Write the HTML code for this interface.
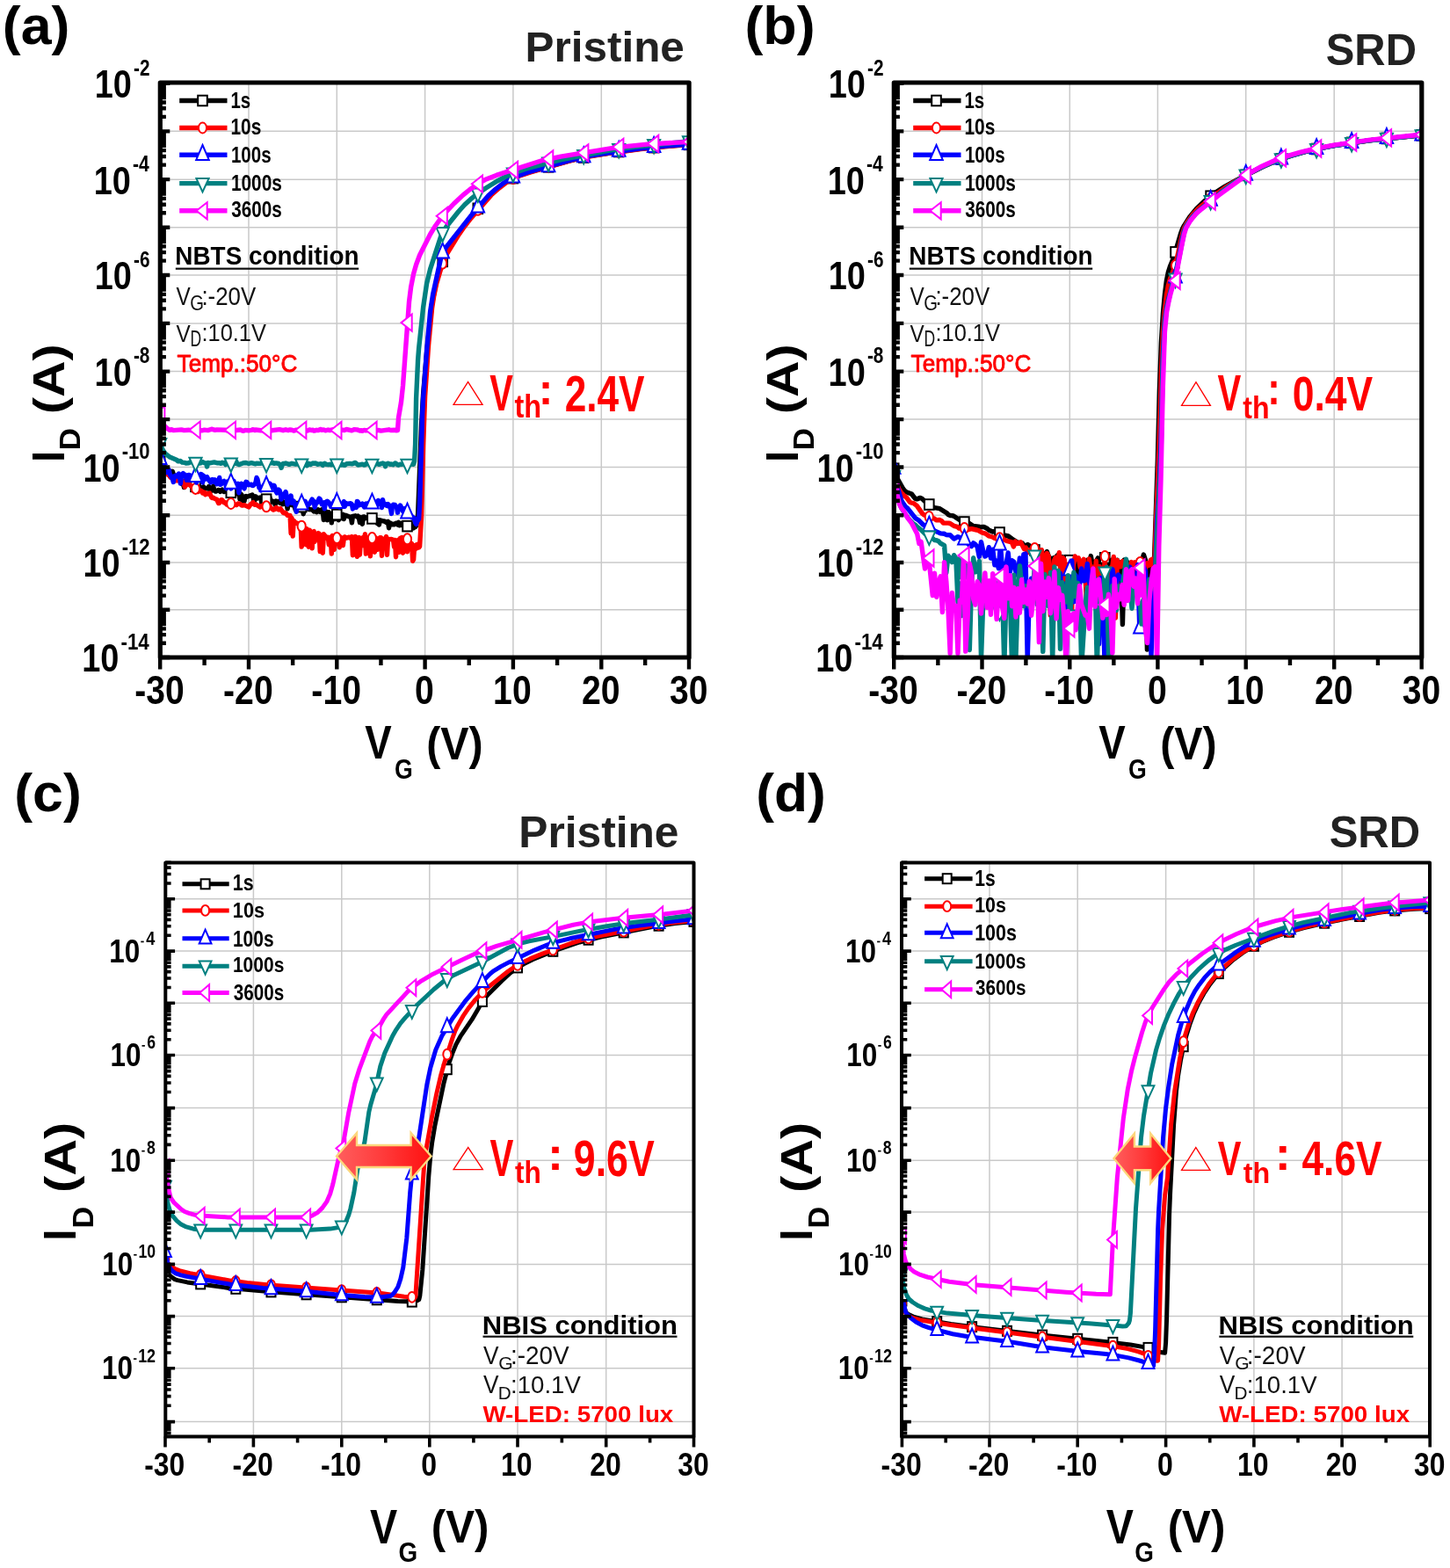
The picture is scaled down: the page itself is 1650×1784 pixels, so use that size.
<!DOCTYPE html><html><head><meta charset="utf-8"><style>html,body{margin:0;padding:0;background:#fff;}svg{display:block}</style></head><body>
<svg width="1650" height="1784" viewBox="0 0 1650 1784">
<rect width="1650" height="1784" fill="#fff"/>
<defs>
<clipPath id="ca"><rect x="182.3" y="94.0" width="601.8" height="654.0"/></clipPath>
<clipPath id="cam"><rect x="182.3" y="94.0" width="601.8" height="654.0"/></clipPath>
<clipPath id="cb"><rect x="1017.3" y="94.0" width="600.5" height="654.0"/></clipPath>
<clipPath id="cbm"><rect x="1017.3" y="94.0" width="600.5" height="654.0"/></clipPath>
<clipPath id="cc"><rect x="188.3" y="981.6" width="601.2" height="652.8"/></clipPath>
<clipPath id="ccm"><rect x="188.3" y="981.6" width="601.2" height="652.8"/></clipPath>
<clipPath id="cd"><rect x="1026.0" y="981.6" width="601.0" height="652.8"/></clipPath>
<clipPath id="cdm"><rect x="1026.0" y="981.6" width="601.0" height="652.8"/></clipPath>
<linearGradient id="ag" x1="0" y1="0" x2="1" y2="0"><stop offset="0" stop-color="#ff5e5e"/><stop offset="0.5" stop-color="#ff3a3a"/><stop offset="1" stop-color="#ff1010"/></linearGradient>
</defs>
<path d="M283.0 94.0V748.0M383.3 94.0V748.0M483.6 94.0V748.0M583.9 94.0V748.0M684.3 94.0V748.0M182.3 693.8H784.1M182.3 640.0H784.1M182.3 586.2H784.1M182.3 531.5H784.1M182.3 477.1H784.1M182.3 422.6H784.1M182.3 367.9H784.1M182.3 313.0H784.1M182.3 258.8H784.1M182.3 204.2H784.1M182.3 149.3H784.1" stroke="#c9c9c9" stroke-width="1.5" fill="none"/>
<path d="M182.2,525.0 188.2,532.2 191.3,534.9 192.3,535.3 193.3,541.8 194.3,538.1 195.3,539.2 196.3,536.3 197.3,539.6 200.3,543.5 203.4,544.1 204.4,543.4 205.4,545.6 206.4,550.0 207.4,550.8 208.4,549.2 209.4,554.5 210.4,548.8 211.4,546.2 213.4,550.7 214.5,550.7 215.5,548.9 216.5,549.4 219.5,554.6 220.5,553.5 221.5,553.6 222.5,555.0 224.5,554.8 225.5,555.2 227.6,554.4 229.6,555.1 231.6,553.8 233.6,555.9 235.6,555.6 236.6,556.0 237.6,553.5 238.6,556.0 240.7,558.3 241.7,557.8 242.7,553.3 243.7,557.4 244.7,558.8 245.7,559.1 248.7,557.5 249.7,558.0 250.7,559.4 252.8,557.2 254.8,559.5 256.8,558.0 257.8,558.5 259.8,561.6 262.8,559.6 264.9,563.1 265.9,562.6 266.9,560.4 267.9,560.4 268.9,561.8 271.9,560.9 272.9,567.8 273.9,561.8 274.9,562.8 275.9,570.2 277.0,568.5 278.0,570.3 279.0,564.8 280.0,564.5 281.0,565.2 287.0,563.1 288.0,564.6 289.0,573.3 290.0,566.8 291.0,564.8 293.0,567.0 296.0,566.0 297.0,566.5 298.0,574.4 299.0,567.9 301.1,568.3 302.1,567.0 303.1,567.0 304.1,570.6 305.1,571.8 306.1,568.0 307.1,566.4 308.1,569.5 309.1,570.9 310.1,570.0 312.1,571.1 313.1,574.3 314.1,570.1 317.1,571.4 318.1,570.1 319.1,572.6 320.1,572.7 321.1,570.0 322.1,573.7 323.1,571.2 325.1,571.7 326.1,572.5 327.1,578.9 328.1,573.4 329.1,573.5 330.1,573.0 332.1,574.6 333.2,574.2 335.2,576.5 336.2,579.9 337.2,575.0 338.2,574.3 341.2,578.3 343.2,575.7 344.2,577.0 345.2,584.7 347.2,576.5 349.2,575.7 351.2,579.5 355.2,579.9 357.2,581.9 358.2,581.2 360.2,582.7 362.2,579.9 364.2,582.5 365.2,582.1 366.2,579.8 367.3,581.3 368.3,591.5 369.3,585.0 370.3,585.0 371.3,582.0 372.3,591.7 373.3,584.0 374.3,582.8 376.3,587.1 377.3,594.9 378.3,586.1 379.3,584.6 380.3,584.1 381.3,590.5 382.3,585.2 383.3,583.0 384.3,582.9 385.3,591.7 386.3,586.3 388.3,587.0 390.3,585.3 391.3,590.6 392.3,586.8 393.3,586.3 398.3,588.3 399.3,588.0 400.4,594.9 401.4,587.4 404.4,586.8 406.4,588.1 407.4,587.1 408.4,589.2 409.4,594.5 410.4,588.6 411.4,589.3 412.4,596.3 413.4,588.0 414.4,588.0 415.4,589.8 416.4,588.8 417.4,589.3 418.4,589.3 419.4,590.1 420.4,589.7 422.4,591.3 424.4,590.1 425.4,591.1 426.4,591.2 427.4,590.0 428.4,591.4 429.4,595.6 430.4,591.7 431.4,597.0 432.4,591.8 436.5,593.0 437.5,592.9 439.5,594.5 441.5,593.4 442.5,600.7 443.5,595.0 444.5,595.2 445.5,596.8 446.5,596.9 447.5,596.3 448.5,596.7 450.5,595.3 451.5,595.4 452.5,596.9 453.5,594.3 454.5,597.8 455.5,597.5 456.5,595.3 458.5,598.1 459.5,597.2 461.5,599.7 462.5,598.2 463.5,597.5 464.5,598.9 467.6,599.7 468.6,596.9 470.6,600.9 471.6,599.6 472.6,599.6 473.6,598.2 474.6,593.9 475.6,585.8 479.6,482.8 481.6,448.5 485.6,401.0 491.6,345.5 496.6,320.2 499.6,309.2 503.7,297.4 506.7,290.7 510.7,283.3 519.7,268.8 526.7,258.6 540.8,240.8 553.8,226.0 559.8,219.9 568.9,212.3 576.9,206.4 582.9,203.0 591.9,199.3 603.0,195.7 648.2,182.8 672.3,177.4 697.3,173.5 730.2,169.1 757.1,166.4 784.0,164.4" stroke="#000000" stroke-width="5.4" fill="none" stroke-linejoin="round" clip-path="url(#ca)"/>
<g clip-path="url(#cam)"><rect x="176.9" y="519.2" width="10.6" height="11.6" fill="#fff" stroke="#000000" stroke-width="2.0"/><rect x="217.2" y="547.6" width="10.6" height="11.6" fill="#fff" stroke="#000000" stroke-width="2.0"/><rect x="257.5" y="554.5" width="10.6" height="11.6" fill="#fff" stroke="#000000" stroke-width="2.0"/><rect x="297.8" y="562.4" width="10.6" height="11.6" fill="#fff" stroke="#000000" stroke-width="2.0"/><rect x="337.9" y="570.8" width="10.6" height="11.6" fill="#fff" stroke="#000000" stroke-width="2.0"/><rect x="378.0" y="579.7" width="10.6" height="11.6" fill="#fff" stroke="#000000" stroke-width="2.0"/><rect x="418.1" y="584.1" width="10.6" height="11.6" fill="#fff" stroke="#000000" stroke-width="2.0"/><rect x="458.2" y="592.8" width="10.6" height="11.6" fill="#fff" stroke="#000000" stroke-width="2.0"/><rect x="498.4" y="291.6" width="10.6" height="11.6" fill="#fff" stroke="#000000" stroke-width="2.0"/><rect x="538.5" y="231.5" width="10.6" height="11.6" fill="#fff" stroke="#000000" stroke-width="2.0"/><rect x="578.6" y="196.8" width="10.6" height="11.6" fill="#fff" stroke="#000000" stroke-width="2.0"/><rect x="618.8" y="184.0" width="10.6" height="11.6" fill="#fff" stroke="#000000" stroke-width="2.0"/><rect x="658.9" y="173.2" width="10.6" height="11.6" fill="#fff" stroke="#000000" stroke-width="2.0"/><rect x="698.9" y="166.7" width="10.6" height="11.6" fill="#fff" stroke="#000000" stroke-width="2.0"/><rect x="738.8" y="161.8" width="10.6" height="11.6" fill="#fff" stroke="#000000" stroke-width="2.0"/><rect x="778.7" y="158.6" width="10.6" height="11.6" fill="#fff" stroke="#000000" stroke-width="2.0"/></g>
<path d="M182.2,527.8 188.2,537.5 191.3,540.3 192.3,540.4 194.3,543.4 195.3,543.9 197.3,543.9 200.3,546.7 203.4,546.6 206.4,549.2 207.4,547.8 208.4,547.8 210.4,554.1 212.4,551.1 214.5,550.5 217.5,553.1 219.5,554.2 220.5,555.9 221.5,556.4 222.5,554.9 223.5,554.7 225.5,559.4 227.6,557.9 228.6,558.1 230.6,560.9 231.6,559.9 232.6,560.3 233.6,562.7 235.6,561.4 236.6,562.0 238.6,561.1 240.7,566.0 241.7,566.5 242.7,566.2 244.7,567.7 246.7,568.1 248.7,572.6 249.7,572.3 250.7,569.8 251.8,568.6 252.8,568.9 254.8,571.8 255.8,571.4 256.8,572.3 257.8,573.9 258.8,573.0 259.8,570.8 260.8,571.1 262.8,573.4 263.8,573.5 264.9,572.7 266.9,574.4 268.9,574.6 270.9,572.9 271.9,573.4 272.9,573.2 274.9,574.8 275.9,575.1 278.0,574.6 283.0,576.9 285.0,573.9 288.0,571.7 289.0,573.5 290.0,574.3 291.0,573.8 296.0,576.9 297.0,575.7 299.0,576.0 300.1,574.2 301.1,574.2 303.1,577.1 304.1,577.0 306.1,575.6 307.1,576.1 308.1,577.8 311.1,580.1 312.1,579.7 314.1,577.5 315.1,577.8 316.1,579.4 317.1,580.0 319.1,578.7 322.1,583.1 323.1,583.7 324.1,583.3 325.1,583.7 327.1,586.2 330.1,586.5 331.1,606.9 332.1,589.4 333.2,610.0 334.2,592.4 336.2,594.5 338.2,595.5 340.2,595.6 341.2,596.5 342.2,598.7 343.2,622.1 344.2,616.2 345.2,601.5 346.2,602.2 347.2,601.2 348.2,619.7 349.2,601.6 351.2,622.2 352.2,603.1 353.2,604.5 355.2,623.9 356.2,605.3 357.2,604.6 358.2,616.2 359.2,608.2 360.2,608.4 362.2,606.6 363.2,607.1 364.2,627.6 365.2,610.2 366.2,609.6 367.3,629.2 368.3,607.8 372.3,612.5 373.3,611.3 374.3,619.8 375.3,611.5 376.3,612.2 377.3,630.0 378.3,609.4 379.3,620.1 380.3,625.3 381.3,612.2 382.3,613.1 385.3,611.9 386.3,622.8 387.3,611.0 388.3,612.0 389.3,614.9 390.3,620.6 391.3,612.8 392.3,610.8 394.3,612.1 397.3,611.2 398.3,612.2 399.3,612.4 400.4,610.7 401.4,631.7 402.4,617.9 403.4,621.9 404.4,610.4 405.4,627.3 406.4,633.3 407.4,612.2 408.4,611.5 409.4,631.2 410.4,613.8 411.4,612.2 412.4,612.4 413.4,611.4 414.4,621.0 415.4,607.8 416.4,630.1 417.4,611.8 419.4,614.2 420.4,613.7 421.4,632.8 422.4,614.8 423.4,614.3 424.4,612.4 425.4,611.7 426.4,628.2 427.4,611.6 428.4,613.3 429.4,625.4 430.4,614.9 432.4,611.6 433.5,611.6 434.5,632.3 435.5,613.4 437.5,614.0 438.5,613.0 439.5,610.5 440.5,631.3 441.5,613.1 442.5,613.6 445.5,613.4 447.5,614.2 448.5,622.2 449.5,614.4 450.5,633.7 451.5,615.6 453.5,614.1 454.5,628.2 455.5,612.1 456.5,617.3 457.5,611.4 458.5,629.2 459.5,612.7 460.5,612.6 461.5,626.7 462.5,612.6 463.5,627.8 464.5,613.1 465.5,614.3 466.5,617.7 468.6,618.6 469.6,638.2 470.6,636.6 471.6,621.0 472.6,620.4 473.6,624.1 474.6,619.4 476.6,623.0 477.6,621.6 479.6,587.2 481.6,506.7 483.6,450.9 487.6,392.2 491.6,350.3 493.6,337.5 496.6,323.0 502.7,302.4 508.7,288.7 520.7,269.0 528.7,257.5 535.8,248.4 558.8,222.1 567.9,214.0 575.9,207.8 581.9,204.1 589.9,200.5 603.0,196.1 645.1,183.9 658.2,180.5 670.2,178.1 694.3,174.2 729.2,169.5 757.1,166.7 784.0,164.6" stroke="#ff0000" stroke-width="5.4" fill="none" stroke-linejoin="round" clip-path="url(#ca)"/>
<g clip-path="url(#cam)"><ellipse cx="182.2" cy="527.8" rx="4.6" ry="6.0" fill="#fff" stroke="#ff0000" stroke-width="2.0"/><ellipse cx="222.5" cy="555.9" rx="4.6" ry="6.0" fill="#fff" stroke="#ff0000" stroke-width="2.0"/><ellipse cx="262.8" cy="573.0" rx="4.6" ry="6.0" fill="#fff" stroke="#ff0000" stroke-width="2.0"/><ellipse cx="303.1" cy="576.3" rx="4.6" ry="6.0" fill="#fff" stroke="#ff0000" stroke-width="2.0"/><ellipse cx="343.2" cy="598.7" rx="4.6" ry="6.0" fill="#fff" stroke="#ff0000" stroke-width="2.0"/><ellipse cx="383.3" cy="612.1" rx="4.6" ry="6.0" fill="#fff" stroke="#ff0000" stroke-width="2.0"/><ellipse cx="423.4" cy="612.1" rx="4.6" ry="6.0" fill="#fff" stroke="#ff0000" stroke-width="2.0"/><ellipse cx="463.5" cy="613.3" rx="4.6" ry="6.0" fill="#fff" stroke="#ff0000" stroke-width="2.0"/><ellipse cx="503.7" cy="299.7" rx="4.6" ry="6.0" fill="#fff" stroke="#ff0000" stroke-width="2.0"/><ellipse cx="543.8" cy="238.8" rx="4.6" ry="6.0" fill="#fff" stroke="#ff0000" stroke-width="2.0"/><ellipse cx="583.9" cy="203.1" rx="4.6" ry="6.0" fill="#fff" stroke="#ff0000" stroke-width="2.0"/><ellipse cx="624.1" cy="190.1" rx="4.6" ry="6.0" fill="#fff" stroke="#ff0000" stroke-width="2.0"/><ellipse cx="664.2" cy="179.2" rx="4.6" ry="6.0" fill="#fff" stroke="#ff0000" stroke-width="2.0"/><ellipse cx="704.2" cy="172.8" rx="4.6" ry="6.0" fill="#fff" stroke="#ff0000" stroke-width="2.0"/><ellipse cx="744.1" cy="167.9" rx="4.6" ry="6.0" fill="#fff" stroke="#ff0000" stroke-width="2.0"/><ellipse cx="784.0" cy="164.6" rx="4.6" ry="6.0" fill="#fff" stroke="#ff0000" stroke-width="2.0"/></g>
<path d="M182.2,522.3 186.2,530.0 188.2,537.1 189.3,537.4 190.3,534.2 192.3,534.7 193.3,539.7 196.3,544.5 197.3,548.5 198.3,542.0 200.3,541.0 201.4,541.9 202.4,541.1 203.4,539.0 204.4,540.4 205.4,550.1 206.4,542.8 207.4,539.7 208.4,538.5 209.4,541.4 210.4,540.0 211.4,541.6 212.4,546.3 214.5,540.5 215.5,540.4 216.5,541.1 218.5,546.3 219.5,544.1 221.5,546.3 222.5,542.9 223.5,549.0 224.5,543.7 225.5,545.0 228.6,539.5 229.6,540.0 230.6,549.0 231.6,541.2 233.6,545.1 234.6,543.1 235.6,542.6 236.6,544.9 239.7,548.9 240.7,545.8 241.7,545.5 242.7,548.4 243.7,548.4 244.7,545.9 246.7,550.8 247.7,550.1 249.7,543.4 250.7,551.3 251.8,550.8 252.8,548.7 254.8,547.4 256.8,550.6 257.8,555.7 258.8,547.9 259.8,548.8 260.8,552.2 261.8,552.0 262.8,555.9 263.8,546.4 265.9,547.2 267.9,552.3 268.9,553.6 270.9,550.4 271.9,560.7 272.9,553.8 274.9,550.4 275.9,551.0 277.0,554.7 278.0,555.8 280.0,548.3 281.0,548.6 283.0,551.7 286.0,551.1 287.0,552.4 288.0,552.5 290.0,550.8 291.0,548.7 292.0,543.5 293.0,545.5 295.0,555.2 296.0,555.7 297.0,558.0 298.0,554.5 299.0,555.6 300.1,551.9 301.1,551.2 302.1,555.7 303.1,555.5 304.1,556.0 305.1,554.0 306.1,556.2 307.1,550.2 309.1,554.0 311.1,552.2 312.1,552.6 314.1,559.1 315.1,560.9 317.1,557.2 318.1,558.1 319.1,561.5 320.1,568.1 321.1,562.5 322.1,564.6 323.1,565.3 324.1,561.5 325.1,559.6 326.1,563.8 327.1,574.0 329.1,566.8 330.1,567.5 331.1,564.1 332.1,572.3 333.2,569.4 334.2,570.1 336.2,575.2 337.2,582.4 338.2,574.0 340.2,576.1 341.2,576.2 343.2,573.1 344.2,574.1 345.2,573.9 347.2,570.3 349.2,575.5 352.2,573.2 355.2,568.0 356.2,570.8 357.2,570.6 358.2,577.2 359.2,573.2 361.2,571.5 363.2,567.1 364.2,568.0 366.2,573.6 367.3,572.3 368.3,571.9 369.3,578.9 370.3,572.6 371.3,570.9 372.3,570.2 374.3,571.8 376.3,575.7 377.3,575.9 378.3,575.3 380.3,570.1 381.3,570.5 383.3,568.4 384.3,575.7 385.3,572.0 386.3,577.1 387.3,575.0 388.3,574.2 389.3,574.4 391.3,570.7 392.3,576.3 393.3,572.3 394.3,573.7 395.3,573.1 396.3,573.4 398.3,572.7 399.3,572.9 400.4,573.8 401.4,578.9 402.4,575.7 403.4,577.0 404.4,576.1 405.4,577.4 406.4,570.4 407.4,571.0 408.4,575.0 410.4,573.8 411.4,574.3 412.4,573.1 414.4,576.8 416.4,573.2 418.4,574.5 419.4,572.1 421.4,572.3 422.4,575.4 423.4,574.3 425.4,570.1 427.4,575.7 428.4,575.8 430.4,569.4 432.4,573.2 433.5,572.9 434.5,577.5 435.5,568.6 436.5,572.7 437.5,573.7 438.5,573.4 439.5,575.0 440.5,575.4 441.5,573.6 442.5,574.5 444.5,579.0 445.5,584.4 446.5,575.8 447.5,574.3 449.5,574.5 451.5,577.4 452.5,583.2 453.5,577.8 454.5,579.0 455.5,575.0 458.5,581.5 459.5,579.3 460.5,578.5 462.5,584.1 463.5,583.2 464.5,584.4 465.5,584.4 466.5,586.9 467.6,586.5 468.6,588.6 469.6,588.2 470.6,589.9 471.6,589.5 472.6,594.6 473.6,596.3 474.6,593.5 476.6,590.5 477.6,573.6 480.6,472.4 481.6,453.1 485.6,398.6 489.6,354.4 492.6,335.2 501.7,293.7 503.7,287.9 507.7,281.2 536.8,244.4 555.8,222.6 562.8,216.2 571.9,209.1 578.9,204.6 584.9,201.6 600.0,196.2 644.1,183.7 657.2,180.2 669.2,177.7 693.3,173.8 728.2,169.1 756.1,166.2 784.0,164.1" stroke="#0000ff" stroke-width="5.4" fill="none" stroke-linejoin="round" clip-path="url(#ca)"/>
<g clip-path="url(#cam)"><polygon points="182.2,511.0 189.5,527.9 174.9,527.9" fill="#fff" stroke="#0000ff" stroke-width="2.0" stroke-linejoin="miter"/><polygon points="222.5,531.2 229.8,548.1 215.2,548.1" fill="#fff" stroke="#0000ff" stroke-width="2.0" stroke-linejoin="miter"/><polygon points="262.8,538.8 270.1,555.7 255.5,555.7" fill="#fff" stroke="#0000ff" stroke-width="2.0" stroke-linejoin="miter"/><polygon points="303.1,542.1 310.4,559.0 295.8,559.0" fill="#fff" stroke="#0000ff" stroke-width="2.0" stroke-linejoin="miter"/><polygon points="343.2,562.7 350.5,579.6 335.9,579.6" fill="#fff" stroke="#0000ff" stroke-width="2.0" stroke-linejoin="miter"/><polygon points="383.3,561.1 390.6,578.0 376.0,578.0" fill="#fff" stroke="#0000ff" stroke-width="2.0" stroke-linejoin="miter"/><polygon points="423.4,561.7 430.7,578.6 416.1,578.6" fill="#fff" stroke="#0000ff" stroke-width="2.0" stroke-linejoin="miter"/><polygon points="463.5,572.7 470.8,589.6 456.2,589.6" fill="#fff" stroke="#0000ff" stroke-width="2.0" stroke-linejoin="miter"/><polygon points="503.7,276.6 511.0,293.5 496.4,293.5" fill="#fff" stroke="#0000ff" stroke-width="2.0" stroke-linejoin="miter"/><polygon points="543.8,224.7 551.1,241.6 536.5,241.6" fill="#fff" stroke="#0000ff" stroke-width="2.0" stroke-linejoin="miter"/><polygon points="583.9,190.7 591.2,207.6 576.6,207.6" fill="#fff" stroke="#0000ff" stroke-width="2.0" stroke-linejoin="miter"/><polygon points="624.1,178.3 631.4,195.2 616.8,195.2" fill="#fff" stroke="#0000ff" stroke-width="2.0" stroke-linejoin="miter"/><polygon points="664.2,167.4 671.5,184.3 656.9,184.3" fill="#fff" stroke="#0000ff" stroke-width="2.0" stroke-linejoin="miter"/><polygon points="704.2,160.9 711.5,177.8 696.9,177.8" fill="#fff" stroke="#0000ff" stroke-width="2.0" stroke-linejoin="miter"/><polygon points="744.1,156.1 751.4,173.0 736.8,173.0" fill="#fff" stroke="#0000ff" stroke-width="2.0" stroke-linejoin="miter"/><polygon points="784.0,152.8 791.3,169.7 776.7,169.7" fill="#fff" stroke="#0000ff" stroke-width="2.0" stroke-linejoin="miter"/></g>
<path d="M182.2,504.6 185.2,511.9 188.2,516.2 193.3,520.1 201.4,523.6 202.4,524.7 205.4,524.5 207.4,526.1 210.4,526.4 211.4,527.1 214.5,526.7 217.5,525.4 220.5,527.1 222.5,525.8 226.6,527.2 228.6,526.8 230.6,525.6 232.6,526.7 234.6,527.1 235.6,531.0 236.6,526.5 238.6,526.8 243.7,525.9 247.7,526.9 249.7,526.7 250.7,527.3 251.8,527.2 252.8,526.2 254.8,527.1 255.8,526.4 256.8,528.6 257.8,526.7 261.8,528.8 264.9,526.0 265.9,525.9 267.9,527.1 268.9,525.2 269.9,527.8 271.9,528.6 277.0,526.8 280.0,526.5 283.0,527.5 286.0,526.6 290.0,527.7 291.0,527.7 292.0,527.1 296.0,527.4 298.0,526.9 301.1,528.1 303.1,527.2 305.1,527.0 306.1,525.8 307.1,525.8 308.1,526.8 311.1,526.5 312.1,527.3 314.1,526.9 317.1,527.5 319.1,529.3 320.1,532.3 321.1,528.3 322.1,527.4 323.1,527.7 325.1,527.0 329.1,528.4 332.1,527.3 336.2,528.2 338.2,527.8 343.2,528.5 347.2,526.9 349.2,529.7 351.2,527.2 353.2,528.5 356.2,526.9 357.2,527.3 359.2,526.9 361.2,528.3 365.2,527.7 367.3,529.3 368.3,527.8 369.3,527.2 371.3,528.3 373.3,528.7 375.3,528.3 377.3,528.9 380.3,527.0 382.3,528.3 383.3,528.5 384.3,527.6 385.3,527.5 388.3,529.1 390.3,528.4 391.3,529.2 392.3,529.3 394.3,527.8 398.3,527.4 400.4,527.9 404.4,526.4 407.4,529.1 412.4,528.1 414.4,529.1 415.4,528.9 416.4,527.7 417.4,527.6 419.4,527.9 421.4,529.1 422.4,529.1 425.4,527.5 427.4,528.0 429.4,527.6 431.4,528.4 435.5,527.0 437.5,527.8 438.5,530.7 439.5,528.1 441.5,527.1 443.5,528.2 445.5,528.0 447.5,528.7 449.5,527.0 450.5,527.2 452.5,528.9 453.5,529.2 455.5,528.2 457.5,528.4 459.5,527.5 462.5,528.4 465.5,527.4 466.5,528.1 470.6,528.3 471.6,524.7 472.6,505.3 473.6,453.0 475.6,409.5 476.6,396.4 481.6,349.7 485.6,322.5 489.6,306.2 501.7,268.9 504.7,262.9 507.7,258.2 521.7,240.8 528.7,233.0 535.8,226.4 543.8,220.1 552.8,214.0 565.8,206.0 576.9,200.2 585.9,196.4 599.0,192.0 616.0,187.3 639.1,181.7 692.3,171.4 730.2,166.2 784.0,160.8" stroke="#008080" stroke-width="5.4" fill="none" stroke-linejoin="round" clip-path="url(#ca)"/>
<g clip-path="url(#cam)"><polygon points="175.1,499.0 189.3,499.0 182.2,514.4" fill="#fff" stroke="#008080" stroke-width="2.0" stroke-linejoin="miter"/><polygon points="215.4,520.7 229.6,520.7 222.5,536.1" fill="#fff" stroke="#008080" stroke-width="2.0" stroke-linejoin="miter"/><polygon points="255.7,521.5 269.9,521.5 262.8,536.9" fill="#fff" stroke="#008080" stroke-width="2.0" stroke-linejoin="miter"/><polygon points="296.0,522.0 310.2,522.0 303.1,537.4" fill="#fff" stroke="#008080" stroke-width="2.0" stroke-linejoin="miter"/><polygon points="336.1,522.4 350.3,522.4 343.2,537.8" fill="#fff" stroke="#008080" stroke-width="2.0" stroke-linejoin="miter"/><polygon points="376.2,522.6 390.4,522.6 383.3,538.0" fill="#fff" stroke="#008080" stroke-width="2.0" stroke-linejoin="miter"/><polygon points="416.3,522.7 430.5,522.7 423.4,538.1" fill="#fff" stroke="#008080" stroke-width="2.0" stroke-linejoin="miter"/><polygon points="456.4,522.7 470.6,522.7 463.5,538.1" fill="#fff" stroke="#008080" stroke-width="2.0" stroke-linejoin="miter"/><polygon points="496.6,259.1 510.8,259.1 503.7,274.5" fill="#fff" stroke="#008080" stroke-width="2.0" stroke-linejoin="miter"/><polygon points="536.7,214.5 550.9,214.5 543.8,229.9" fill="#fff" stroke="#008080" stroke-width="2.0" stroke-linejoin="miter"/><polygon points="576.8,191.6 591.0,191.6 583.9,207.0" fill="#fff" stroke="#008080" stroke-width="2.0" stroke-linejoin="miter"/><polygon points="617.0,179.6 631.2,179.6 624.1,195.0" fill="#fff" stroke="#008080" stroke-width="2.0" stroke-linejoin="miter"/><polygon points="657.1,170.9 671.3,170.9 664.2,186.3" fill="#fff" stroke="#008080" stroke-width="2.0" stroke-linejoin="miter"/><polygon points="697.1,163.9 711.3,163.9 704.2,179.3" fill="#fff" stroke="#008080" stroke-width="2.0" stroke-linejoin="miter"/><polygon points="737.0,159.0 751.2,159.0 744.1,174.4" fill="#fff" stroke="#008080" stroke-width="2.0" stroke-linejoin="miter"/><polygon points="776.9,155.2 791.1,155.2 784.0,170.6" fill="#fff" stroke="#008080" stroke-width="2.0" stroke-linejoin="miter"/></g>
<path d="M182.2,471.6 186.2,483.5 189.3,486.7 193.3,489.4 195.3,488.6 197.3,489.6 206.4,488.9 209.4,489.6 214.5,489.2 218.5,489.8 222.5,488.8 224.5,489.6 227.6,489.3 229.6,489.8 232.6,489.1 236.6,489.6 240.7,488.2 244.7,489.3 246.7,488.9 256.8,489.3 258.8,490.1 260.8,489.2 262.8,489.8 264.9,489.5 266.9,489.8 273.9,489.0 275.9,490.1 277.0,490.2 279.0,489.4 283.0,489.7 286.0,489.4 288.0,488.6 290.0,489.5 291.0,489.0 297.0,489.8 303.1,488.9 307.1,490.0 318.1,488.6 322.1,489.7 325.1,488.8 328.1,489.6 329.1,488.9 330.1,488.9 331.1,489.4 332.1,489.1 334.2,490.1 337.2,489.1 339.2,489.7 342.2,489.8 344.2,489.0 346.2,489.8 350.2,490.0 352.2,488.9 354.2,489.5 356.2,489.3 357.2,490.1 358.2,490.1 360.2,489.3 362.2,489.6 364.2,488.5 365.2,488.5 366.2,489.4 368.3,488.9 370.3,489.8 373.3,489.0 375.3,489.6 378.3,488.8 380.3,490.1 382.3,489.3 384.3,490.3 386.3,489.4 390.3,489.2 391.3,489.6 394.3,488.5 400.4,489.8 403.4,488.6 406.4,488.9 409.4,490.0 411.4,489.6 412.4,490.3 414.4,489.4 416.4,489.9 419.4,489.3 422.4,489.8 424.4,489.0 428.4,490.0 430.4,489.4 433.5,490.1 442.5,488.8 444.5,489.5 449.5,489.2 450.5,489.8 452.5,489.5 453.5,475.1 456.5,457.5 458.5,439.0 465.5,343.7 467.6,326.8 470.6,311.5 473.6,301.0 477.6,290.3 489.6,266.5 495.6,256.7 501.7,248.2 508.7,239.9 516.7,231.5 526.7,222.1 534.8,215.5 543.8,209.2 551.8,204.6 564.8,199.4 618.0,182.3 638.1,178.1 702.2,167.6 739.1,163.9 784.0,161.4" stroke="#ff00ff" stroke-width="5.4" fill="none" stroke-linejoin="round" clip-path="url(#ca)"/>
<g clip-path="url(#cam)"><polygon points="175.2,471.6 187.4,462.0 187.4,481.2" fill="#fff" stroke="#ff00ff" stroke-width="2.0" stroke-linejoin="miter"/><polygon points="215.5,489.1 227.7,479.5 227.7,498.7" fill="#fff" stroke="#ff00ff" stroke-width="2.0" stroke-linejoin="miter"/><polygon points="255.8,489.3 268.0,479.7 268.0,498.9" fill="#fff" stroke="#ff00ff" stroke-width="2.0" stroke-linejoin="miter"/><polygon points="296.1,489.4 308.3,479.8 308.3,499.0" fill="#fff" stroke="#ff00ff" stroke-width="2.0" stroke-linejoin="miter"/><polygon points="336.2,489.4 348.4,479.8 348.4,499.0" fill="#fff" stroke="#ff00ff" stroke-width="2.0" stroke-linejoin="miter"/><polygon points="376.3,489.5 388.5,479.9 388.5,499.1" fill="#fff" stroke="#ff00ff" stroke-width="2.0" stroke-linejoin="miter"/><polygon points="416.4,489.5 428.6,479.9 428.6,499.1" fill="#fff" stroke="#ff00ff" stroke-width="2.0" stroke-linejoin="miter"/><polygon points="456.5,367.1 468.7,357.5 468.7,376.7" fill="#fff" stroke="#ff00ff" stroke-width="2.0" stroke-linejoin="miter"/><polygon points="496.7,245.7 508.9,236.1 508.9,255.3" fill="#fff" stroke="#ff00ff" stroke-width="2.0" stroke-linejoin="miter"/><polygon points="536.8,209.2 549.0,199.6 549.0,218.8" fill="#fff" stroke="#ff00ff" stroke-width="2.0" stroke-linejoin="miter"/><polygon points="576.9,193.4 589.1,183.8 589.1,203.0" fill="#fff" stroke="#ff00ff" stroke-width="2.0" stroke-linejoin="miter"/><polygon points="617.1,180.9 629.3,171.3 629.3,190.5" fill="#fff" stroke="#ff00ff" stroke-width="2.0" stroke-linejoin="miter"/><polygon points="657.2,173.8 669.4,164.2 669.4,183.4" fill="#fff" stroke="#ff00ff" stroke-width="2.0" stroke-linejoin="miter"/><polygon points="697.2,167.3 709.4,157.7 709.4,176.9" fill="#fff" stroke="#ff00ff" stroke-width="2.0" stroke-linejoin="miter"/><polygon points="737.1,163.5 749.3,153.9 749.3,173.1" fill="#fff" stroke="#ff00ff" stroke-width="2.0" stroke-linejoin="miter"/><polygon points="777.0,161.4 789.2,151.8 789.2,171.0" fill="#fff" stroke="#ff00ff" stroke-width="2.0" stroke-linejoin="miter"/></g>
<path d="M182.3 748.00h11M182.3 731.68h6.6M182.3 722.14h6.6M182.3 715.37h6.6M182.3 710.12h6.6M182.3 705.82h6.6M182.3 702.20h6.6M182.3 699.05h6.6M182.3 696.28h6.6M182.3 693.80h11M182.3 677.60h6.6M182.3 668.13h6.6M182.3 661.41h6.6M182.3 656.20h6.6M182.3 651.94h6.6M182.3 648.33h6.6M182.3 645.21h6.6M182.3 642.46h6.6M182.3 640.00h11M182.3 623.80h6.6M182.3 614.33h6.6M182.3 607.61h6.6M182.3 602.40h6.6M182.3 598.14h6.6M182.3 594.53h6.6M182.3 591.41h6.6M182.3 588.66h6.6M182.3 586.20h11M182.3 569.73h6.6M182.3 560.10h6.6M182.3 553.27h6.6M182.3 547.97h6.6M182.3 543.64h6.6M182.3 539.97h6.6M182.3 536.80h6.6M182.3 534.00h6.6M182.3 531.50h11M182.3 515.12h6.6M182.3 505.54h6.6M182.3 498.75h6.6M182.3 493.48h6.6M182.3 489.17h6.6M182.3 485.53h6.6M182.3 482.37h6.6M182.3 479.59h6.6M182.3 477.10h11M182.3 460.69h6.6M182.3 451.10h6.6M182.3 444.29h6.6M182.3 439.01h6.6M182.3 434.69h6.6M182.3 431.04h6.6M182.3 427.88h6.6M182.3 425.09h6.6M182.3 422.60h11M182.3 406.12h6.6M182.3 396.48h6.6M182.3 389.64h6.6M182.3 384.33h6.6M182.3 380.00h6.6M182.3 376.33h6.6M182.3 373.16h6.6M182.3 370.36h6.6M182.3 367.85h11M182.3 351.34h6.6M182.3 341.68h6.6M182.3 334.83h6.6M182.3 329.51h6.6M182.3 325.17h6.6M182.3 321.50h6.6M182.3 318.32h6.6M182.3 315.51h6.6M182.3 313.00h11M182.3 296.67h6.6M182.3 287.12h6.6M182.3 280.34h6.6M182.3 275.08h6.6M182.3 270.79h6.6M182.3 267.15h6.6M182.3 264.01h6.6M182.3 261.23h6.6M182.3 258.75h11M182.3 242.31h6.6M182.3 232.70h6.6M182.3 225.88h6.6M182.3 220.59h6.6M182.3 216.26h6.6M182.3 212.61h6.6M182.3 209.44h6.6M182.3 206.65h6.6M182.3 204.15h11M182.3 187.65h6.6M182.3 178.00h6.6M182.3 171.16h6.6M182.3 165.85h6.6M182.3 161.51h6.6M182.3 157.84h6.6M182.3 154.66h6.6M182.3 151.86h6.6M182.3 149.35h11M182.3 132.90h6.6M182.3 123.28h6.6M182.3 116.45h6.6M182.3 111.15h6.6M182.3 106.82h6.6M182.3 103.17h6.6M182.3 100.00h6.6M182.3 97.20h6.6M182.3 94.70h11M182.20 748.0v13.5M232.60 748.0v9M283.00 748.0v13.5M333.15 748.0v9M383.30 748.0v13.5M433.45 748.0v9M483.60 748.0v13.5M533.75 748.0v9M583.90 748.0v13.5M634.10 748.0v9M684.30 748.0v13.5M734.15 748.0v9M784.00 748.0v13.5" stroke="#000" stroke-width="4.4" fill="none"/>
<rect x="182.3" y="94.0" width="601.8" height="654.0" fill="none" stroke="#000" stroke-width="5.2" stroke-linejoin="round"/>
<path d="M204.2 114.5H258.5" stroke="#000000" stroke-width="5.4" stroke-linecap="butt"/>
<rect x="225.2" y="108.7" width="10.6" height="11.6" fill="#fff" stroke="#000000" stroke-width="2.0"/>
<text transform="matrix(0.7836 0 0 1 262.42 122.74)" font-size="26.09" font-weight="bold" fill="#000" font-family='"Liberation Sans", Arial, sans-serif'>1s</text>
<path d="M204.2 145.5H258.5" stroke="#ff0000" stroke-width="5.4" stroke-linecap="butt"/>
<ellipse cx="230.5" cy="145.5" rx="4.6" ry="6.0" fill="#fff" stroke="#ff0000" stroke-width="2.0"/>
<text transform="matrix(0.8377 0 0 1 262.39 152.85)" font-size="25.02" font-weight="bold" fill="#000" font-family='"Liberation Sans", Arial, sans-serif'>10s</text>
<path d="M204.2 176.3H258.5" stroke="#0000ff" stroke-width="5.4" stroke-linecap="butt"/>
<polygon points="230.5,165.0 237.8,181.9 223.2,181.9" fill="#fff" stroke="#0000ff" stroke-width="2.0" stroke-linejoin="miter"/>
<text transform="matrix(0.8174 0 0 1 262.91 184.75)" font-size="25.16" font-weight="bold" fill="#000" font-family='"Liberation Sans", Arial, sans-serif'>100s</text>
<path d="M204.2 208.6H258.5" stroke="#008080" stroke-width="5.4" stroke-linecap="butt"/>
<polygon points="223.4,203.0 237.6,203.0 230.5,218.4" fill="#fff" stroke="#008080" stroke-width="2.0" stroke-linejoin="miter"/>
<text transform="matrix(0.8298 0 0 1 262.90 216.55)" font-size="25.16" font-weight="bold" fill="#000" font-family='"Liberation Sans", Arial, sans-serif'>1000s</text>
<path d="M204.2 239.8H258.5" stroke="#ff00ff" stroke-width="5.4" stroke-linecap="butt"/>
<polygon points="223.5,239.8 235.7,230.2 235.7,249.4" fill="#fff" stroke="#ff00ff" stroke-width="2.0" stroke-linejoin="miter"/>
<text transform="matrix(0.8278 0 0 1 263.23 247.49)" font-size="25.07" font-weight="bold" fill="#000" font-family='"Liberation Sans", Arial, sans-serif'>3600s</text>
<text transform="matrix(0.8100 0 0 1 152.08 85.60)" font-size="25.66" font-weight="bold" fill="#000" font-family='"Liberation Sans", Arial, sans-serif'>-2</text>
<text transform="matrix(0.8436 0 0 1 107.74 111.15)" font-size="44.95" font-weight="bold" fill="#000" font-family='"Liberation Sans", Arial, sans-serif'>10</text>
<text transform="matrix(0.8100 0 0 1 151.09 195.05)" font-size="26.04" font-weight="bold" fill="#000" font-family='"Liberation Sans", Arial, sans-serif'>-4</text>
<text transform="matrix(0.8436 0 0 1 106.76 220.60)" font-size="44.95" font-weight="bold" fill="#000" font-family='"Liberation Sans", Arial, sans-serif'>10</text>
<text transform="matrix(0.8216 0 0 1 151.98 303.65)" font-size="25.30" font-weight="bold" fill="#000" font-family='"Liberation Sans", Arial, sans-serif'>-6</text>
<text transform="matrix(0.8436 0 0 1 107.64 329.45)" font-size="44.95" font-weight="bold" fill="#000" font-family='"Liberation Sans", Arial, sans-serif'>10</text>
<text transform="matrix(0.8216 0 0 1 151.88 413.25)" font-size="25.30" font-weight="bold" fill="#000" font-family='"Liberation Sans", Arial, sans-serif'>-8</text>
<text transform="matrix(0.8436 0 0 1 107.54 439.05)" font-size="44.95" font-weight="bold" fill="#000" font-family='"Liberation Sans", Arial, sans-serif'>10</text>
<text transform="matrix(0.8723 0 0 1 138.69 522.15)" font-size="25.30" font-weight="bold" fill="#000" font-family='"Liberation Sans", Arial, sans-serif'>-10</text>
<text transform="matrix(0.8436 0 0 1 94.40 547.95)" font-size="44.95" font-weight="bold" fill="#000" font-family='"Liberation Sans", Arial, sans-serif'>10</text>
<text transform="matrix(0.8600 0 0 1 138.69 630.90)" font-size="25.66" font-weight="bold" fill="#000" font-family='"Liberation Sans", Arial, sans-serif'>-12</text>
<text transform="matrix(0.8436 0 0 1 94.40 656.45)" font-size="44.95" font-weight="bold" fill="#000" font-family='"Liberation Sans", Arial, sans-serif'>10</text>
<text transform="matrix(0.8600 0 0 1 137.46 738.90)" font-size="26.04" font-weight="bold" fill="#000" font-family='"Liberation Sans", Arial, sans-serif'>-14</text>
<text transform="matrix(0.8436 0 0 1 93.18 764.45)" font-size="44.95" font-weight="bold" fill="#000" font-family='"Liberation Sans", Arial, sans-serif'>10</text>
<text transform="matrix(0.8540 0 0 1 153.36 801.13)" font-size="45.77" font-weight="bold" fill="#000" font-family='"Liberation Sans", Arial, sans-serif'>-30</text>
<text transform="matrix(0.8540 0 0 1 254.06 801.24)" font-size="45.94" font-weight="bold" fill="#000" font-family='"Liberation Sans", Arial, sans-serif'>-20</text>
<text transform="matrix(0.8540 0 0 1 354.36 801.24)" font-size="45.94" font-weight="bold" fill="#000" font-family='"Liberation Sans", Arial, sans-serif'>-10</text>
<text transform="matrix(0.8540 0 0 1 472.11 801.24)" font-size="45.94" font-weight="bold" fill="#000" font-family='"Liberation Sans", Arial, sans-serif'>0</text>
<text transform="matrix(0.8540 0 0 1 561.09 801.24)" font-size="45.94" font-weight="bold" fill="#000" font-family='"Liberation Sans", Arial, sans-serif'>10</text>
<text transform="matrix(0.8540 0 0 1 662.03 801.24)" font-size="45.94" font-weight="bold" fill="#000" font-family='"Liberation Sans", Arial, sans-serif'>20</text>
<text transform="matrix(0.8540 0 0 1 762.05 801.13)" font-size="45.77" font-weight="bold" fill="#000" font-family='"Liberation Sans", Arial, sans-serif'>30</text>
<text transform="matrix(0.8463 0 0 1 415.16 863.10)" font-size="53.96" font-weight="bold" fill="#000" font-family='"Liberation Sans", Arial, sans-serif'>V</text>
<text transform="matrix(0.8348 0 0 1 448.93 885.88)" font-size="31.94" font-weight="bold" fill="#000" font-family='"Liberation Sans", Arial, sans-serif'>G</text>
<text transform="matrix(0.9237 0 0 1 485.18 863.52)" font-size="52.44" font-weight="bold" fill="#000" font-family='"Liberation Sans", Arial, sans-serif'>(V)</text>
<text transform="matrix(0 -0.9164 1 0 72.90 526.12)" font-size="52.07" font-weight="bold" fill="#000" font-family='"Liberation Sans", Arial, sans-serif'>I</text>
<text transform="matrix(0 -1.0820 1 0 91.30 512.16)" font-size="32.29" font-weight="bold" fill="#000" font-family='"Liberation Sans", Arial, sans-serif'>D</text>
<text transform="matrix(0 -1.1461 1 0 73.01 471.07)" font-size="50.08" font-weight="bold" fill="#000" font-family='"Liberation Sans", Arial, sans-serif'>(A)</text>
<text transform="matrix(0.9718 0 0 1 199.32 301.31)" font-size="28.71" font-weight="bold" fill="#000" font-family='"Liberation Sans", Arial, sans-serif'>NBTS condition</text>
<rect x="199.8" y="304.6" width="208.4" height="2.2" fill="#111"/>
<text transform="matrix(0.8282 0 0 1 200.38 347.40)" font-size="29.38" font-weight="normal" fill="#111" font-family='"Liberation Sans", Arial, sans-serif'>V</text>
<text transform="matrix(0.8622 0 0 1 216.19 353.37)" font-size="23.46" font-weight="normal" fill="#111" font-family='"Liberation Sans", Arial, sans-serif'>G</text>
<text transform="matrix(0.8869 0 0 1 229.41 347.31)" font-size="29.12" font-weight="normal" fill="#111" font-family='"Liberation Sans", Arial, sans-serif'>:-20V</text>
<text transform="matrix(0.8580 0 0 1 200.38 388.50)" font-size="28.36" font-weight="normal" fill="#111" font-family='"Liberation Sans", Arial, sans-serif'>V</text>
<text transform="matrix(0.6704 0 0 1 216.45 394.00)" font-size="26.18" font-weight="normal" fill="#111" font-family='"Liberation Sans", Arial, sans-serif'>D</text>
<text transform="matrix(0.9136 0 0 1 229.45 388.42)" font-size="27.84" font-weight="normal" fill="#111" font-family='"Liberation Sans", Arial, sans-serif'>:10.1V</text>
<text transform="matrix(0.9208 0 0 1 201.61 423.30)" font-size="28.39" font-weight="normal" fill="#f00" font-family='"Liberation Sans", Arial, sans-serif' stroke="#f00" stroke-width="0.9" stroke-linejoin="round">Temp.:50°C</text>
<path d="M1117.5 94.0V748.0M1217.3 94.0V748.0M1317.4 94.0V748.0M1417.7 94.0V748.0M1518.2 94.0V748.0M1017.3 693.8H1617.8M1017.3 640.0H1617.8M1017.3 586.2H1617.8M1017.3 531.5H1617.8M1017.3 477.1H1617.8M1017.3 422.6H1617.8M1017.3 367.9H1617.8M1017.3 313.0H1617.8M1017.3 258.8H1617.8M1017.3 204.2H1617.8M1017.3 149.3H1617.8" stroke="#c9c9c9" stroke-width="1.5" fill="none"/>
<path d="M1017.2,533.2 1021.2,544.5 1027.2,555.3 1029.2,558.1 1031.2,559.7 1037.3,562.0 1041.3,567.2 1043.3,567.9 1047.3,566.4 1049.3,567.4 1053.3,571.4 1055.3,572.3 1061.3,576.5 1063.3,577.6 1069.4,578.7 1077.4,583.7 1079.4,585.8 1081.4,586.6 1083.4,586.6 1085.4,587.2 1093.4,592.4 1097.4,594.0 1099.4,593.9 1101.5,594.5 1107.5,598.5 1113.5,599.1 1115.5,599.8 1119.5,599.4 1123.5,601.5 1125.5,603.2 1129.5,605.0 1131.5,604.6 1135.5,606.4 1137.5,606.0 1141.5,608.6 1147.4,610.0 1151.4,613.0 1159.4,618.0 1163.4,618.0 1165.4,621.0 1167.4,620.7 1169.4,619.6 1173.4,622.1 1175.4,625.5 1177.4,625.9 1179.4,632.3 1181.4,625.8 1183.4,653.8 1185.4,627.8 1189.4,632.7 1191.4,627.6 1193.3,633.0 1195.3,635.2 1197.3,639.3 1199.3,634.5 1201.3,634.6 1203.3,631.8 1207.3,637.4 1209.3,633.6 1211.3,646.9 1213.3,643.7 1215.3,636.6 1217.3,637.7 1219.3,633.8 1221.3,656.8 1223.3,635.0 1225.3,642.6 1227.3,665.7 1229.3,641.7 1231.3,638.3 1235.3,640.4 1237.3,637.3 1239.3,641.1 1241.3,632.6 1243.3,643.0 1245.3,650.5 1247.3,638.7 1249.3,634.9 1251.3,641.7 1253.3,645.9 1257.3,634.8 1259.3,640.0 1261.3,639.4 1263.3,643.0 1265.3,637.2 1267.3,636.6 1269.4,653.2 1271.4,637.3 1273.4,642.4 1275.4,640.0 1277.4,710.5 1279.4,636.9 1281.4,637.2 1285.4,645.0 1287.4,647.6 1289.4,642.9 1293.4,660.1 1295.4,637.2 1297.4,648.5 1299.4,638.2 1301.4,631.0 1303.4,637.1 1305.4,739.0 1307.4,641.2 1309.4,639.9 1311.4,644.8 1313.4,639.1 1317.4,522.0 1319.4,445.1 1321.4,389.7 1323.4,357.1 1325.4,335.2 1327.4,319.3 1329.4,309.5 1331.4,303.2 1335.5,293.2 1343.5,266.0 1345.5,260.5 1347.5,256.6 1353.5,247.2 1361.5,237.4 1369.6,229.7 1383.6,218.7 1393.6,212.3 1407.7,204.6 1435.8,190.3 1453.9,182.4 1467.9,177.5 1484.0,172.8 1500.1,169.0 1518.2,165.6 1560.0,159.6 1617.7,153.8" stroke="#000000" stroke-width="5.4" fill="none" stroke-linejoin="round" clip-path="url(#cb)"/>
<g clip-path="url(#cbm)"><rect x="1011.9" y="527.4" width="10.6" height="11.6" fill="#fff" stroke="#000000" stroke-width="2.0"/><rect x="1052.0" y="568.2" width="10.6" height="11.6" fill="#fff" stroke="#000000" stroke-width="2.0"/><rect x="1092.1" y="588.2" width="10.6" height="11.6" fill="#fff" stroke="#000000" stroke-width="2.0"/><rect x="1132.2" y="600.2" width="10.6" height="11.6" fill="#fff" stroke="#000000" stroke-width="2.0"/><rect x="1172.1" y="620.1" width="10.6" height="11.6" fill="#fff" stroke="#000000" stroke-width="2.0"/><rect x="1212.0" y="631.9" width="10.6" height="11.6" fill="#fff" stroke="#000000" stroke-width="2.0"/><rect x="1252.0" y="629.0" width="10.6" height="11.6" fill="#fff" stroke="#000000" stroke-width="2.0"/><rect x="1292.1" y="642.7" width="10.6" height="11.6" fill="#fff" stroke="#000000" stroke-width="2.0"/><rect x="1332.2" y="281.1" width="10.6" height="11.6" fill="#fff" stroke="#000000" stroke-width="2.0"/><rect x="1372.3" y="217.4" width="10.6" height="11.6" fill="#fff" stroke="#000000" stroke-width="2.0"/><rect x="1412.4" y="193.6" width="10.6" height="11.6" fill="#fff" stroke="#000000" stroke-width="2.0"/><rect x="1452.6" y="175.1" width="10.6" height="11.6" fill="#fff" stroke="#000000" stroke-width="2.0"/><rect x="1492.8" y="163.7" width="10.6" height="11.6" fill="#fff" stroke="#000000" stroke-width="2.0"/><rect x="1532.8" y="156.6" width="10.6" height="11.6" fill="#fff" stroke="#000000" stroke-width="2.0"/><rect x="1572.6" y="151.7" width="10.6" height="11.6" fill="#fff" stroke="#000000" stroke-width="2.0"/><rect x="1612.4" y="148.0" width="10.6" height="11.6" fill="#fff" stroke="#000000" stroke-width="2.0"/></g>
<path d="M1017.2,538.6 1021.2,552.4 1023.2,557.0 1025.2,560.0 1029.2,564.3 1031.2,565.7 1035.3,571.2 1037.3,572.1 1039.3,572.4 1043.3,575.4 1049.3,583.9 1051.3,585.7 1053.3,586.6 1055.3,586.7 1057.3,588.0 1063.3,590.0 1065.3,591.7 1069.4,591.5 1071.4,592.6 1073.4,595.0 1079.4,595.1 1081.4,595.7 1085.4,598.3 1089.4,599.4 1091.4,601.1 1097.4,601.0 1099.4,602.3 1101.5,602.6 1105.5,601.6 1111.5,603.0 1113.5,603.6 1117.5,606.0 1121.5,607.1 1125.5,610.0 1129.5,611.0 1131.5,612.4 1135.5,611.8 1139.5,613.3 1141.5,613.4 1145.4,615.3 1151.4,616.9 1153.4,621.9 1155.4,616.1 1157.4,618.4 1161.4,616.7 1165.4,624.6 1167.4,623.2 1169.4,628.6 1171.4,628.3 1175.4,621.9 1179.4,626.9 1181.4,630.9 1183.4,708.7 1185.4,625.8 1189.4,651.7 1191.4,629.5 1193.3,633.0 1195.3,699.8 1197.3,659.3 1199.3,638.2 1201.3,634.3 1203.3,641.6 1205.3,628.6 1207.3,655.8 1209.3,634.5 1211.3,636.8 1213.3,703.2 1215.3,644.8 1217.3,645.6 1219.3,704.4 1221.3,644.3 1223.3,632.9 1225.3,635.9 1227.3,634.8 1229.3,645.4 1231.3,639.8 1233.3,636.3 1235.3,660.9 1237.3,707.7 1239.3,636.0 1241.3,649.3 1243.3,645.1 1245.3,664.3 1247.3,638.3 1249.3,714.5 1251.3,644.4 1253.3,665.4 1255.3,672.1 1257.3,633.0 1259.3,753.3 1261.3,649.4 1263.3,646.4 1265.3,648.4 1267.3,633.5 1269.4,703.0 1271.4,637.5 1273.4,644.7 1275.4,644.8 1277.4,638.5 1279.4,641.0 1281.4,646.2 1283.4,643.6 1285.4,645.5 1287.4,639.5 1289.4,649.6 1291.4,639.8 1293.4,640.1 1295.4,643.3 1297.4,640.0 1299.4,640.8 1301.4,650.0 1303.4,647.1 1305.4,640.8 1307.4,643.1 1309.4,637.2 1311.4,636.1 1313.4,658.4 1315.4,593.6 1317.4,552.9 1319.4,496.0 1321.4,425.1 1323.4,378.3 1325.4,353.2 1327.4,336.4 1329.4,325.0 1331.4,317.5 1337.5,302.1 1345.5,266.1 1347.5,259.5 1351.5,252.2 1357.5,243.8 1363.5,237.4 1381.6,222.7 1393.6,213.9 1407.7,205.1 1425.7,195.2 1441.8,187.4 1455.9,181.6 1470.0,176.9 1486.0,172.3 1502.1,168.6 1520.2,165.2 1562.0,159.3 1617.7,153.8" stroke="#ff0000" stroke-width="5.4" fill="none" stroke-linejoin="round" clip-path="url(#cb)"/>
<g clip-path="url(#cbm)"><ellipse cx="1017.2" cy="538.6" rx="4.6" ry="6.0" fill="#fff" stroke="#ff0000" stroke-width="2.0"/><ellipse cx="1057.3" cy="588.0" rx="4.6" ry="6.0" fill="#fff" stroke="#ff0000" stroke-width="2.0"/><ellipse cx="1097.4" cy="601.0" rx="4.6" ry="6.0" fill="#fff" stroke="#ff0000" stroke-width="2.0"/><ellipse cx="1137.5" cy="612.3" rx="4.6" ry="6.0" fill="#fff" stroke="#ff0000" stroke-width="2.0"/><ellipse cx="1177.4" cy="624.0" rx="4.6" ry="6.0" fill="#fff" stroke="#ff0000" stroke-width="2.0"/><ellipse cx="1217.3" cy="645.6" rx="4.6" ry="6.0" fill="#fff" stroke="#ff0000" stroke-width="2.0"/><ellipse cx="1257.3" cy="633.0" rx="4.6" ry="6.0" fill="#fff" stroke="#ff0000" stroke-width="2.0"/><ellipse cx="1297.4" cy="640.0" rx="4.6" ry="6.0" fill="#fff" stroke="#ff0000" stroke-width="2.0"/><ellipse cx="1337.5" cy="302.1" rx="4.6" ry="6.0" fill="#fff" stroke="#ff0000" stroke-width="2.0"/><ellipse cx="1377.6" cy="226.0" rx="4.6" ry="6.0" fill="#fff" stroke="#ff0000" stroke-width="2.0"/><ellipse cx="1417.7" cy="199.4" rx="4.6" ry="6.0" fill="#fff" stroke="#ff0000" stroke-width="2.0"/><ellipse cx="1457.9" cy="180.9" rx="4.6" ry="6.0" fill="#fff" stroke="#ff0000" stroke-width="2.0"/><ellipse cx="1498.1" cy="169.5" rx="4.6" ry="6.0" fill="#fff" stroke="#ff0000" stroke-width="2.0"/><ellipse cx="1538.1" cy="162.4" rx="4.6" ry="6.0" fill="#fff" stroke="#ff0000" stroke-width="2.0"/><ellipse cx="1577.9" cy="157.5" rx="4.6" ry="6.0" fill="#fff" stroke="#ff0000" stroke-width="2.0"/><ellipse cx="1617.7" cy="153.8" rx="4.6" ry="6.0" fill="#fff" stroke="#ff0000" stroke-width="2.0"/></g>
<path d="M1017.2,533.2 1021.6,555.3 1026.0,570.0 1030.4,576.5 1032.6,578.1 1041.5,589.4 1045.9,592.3 1050.3,596.8 1052.5,598.3 1054.7,599.6 1056.9,599.0 1059.1,601.2 1063.5,603.9 1070.2,606.9 1074.6,607.3 1076.8,608.5 1081.2,608.8 1085.6,613.1 1090.0,610.7 1092.2,611.6 1094.4,613.2 1098.8,615.2 1103.3,620.6 1105.5,621.6 1107.7,617.8 1109.9,619.5 1112.1,622.2 1114.3,633.4 1116.5,616.7 1118.7,626.7 1120.9,633.0 1123.1,631.3 1125.3,622.7 1127.5,635.1 1129.7,625.2 1131.9,642.9 1134.1,638.1 1136.3,646.7 1138.5,620.0 1140.7,650.3 1142.8,641.5 1145.0,641.9 1147.2,628.9 1149.4,650.6 1151.6,637.7 1153.8,639.2 1156.0,651.1 1158.2,654.5 1160.4,634.9 1162.6,654.5 1164.8,630.9 1167.0,630.1 1169.2,750.7 1171.4,672.1 1173.6,658.1 1178.0,672.5 1180.2,664.3 1182.4,681.2 1184.6,658.2 1186.8,677.2 1189.0,667.4 1191.2,668.5 1193.3,665.7 1195.5,676.1 1197.7,670.7 1199.9,679.6 1202.1,677.9 1204.3,672.7 1206.5,652.2 1208.7,679.6 1210.9,664.2 1213.1,758.0 1215.3,677.6 1217.5,648.9 1219.7,637.9 1221.9,684.9 1224.1,654.5 1226.3,667.6 1228.5,665.5 1230.7,647.0 1232.9,660.9 1235.1,660.3 1237.3,641.5 1239.5,661.0 1241.7,673.6 1243.9,681.8 1246.1,666.6 1248.3,687.0 1250.5,732.9 1252.7,657.5 1254.9,672.3 1257.1,758.0 1259.3,723.4 1261.5,733.2 1263.7,678.4 1265.9,647.6 1268.2,661.1 1270.4,663.7 1272.6,654.0 1277.0,660.5 1279.2,678.2 1283.6,649.3 1285.8,645.1 1288.0,677.7 1290.2,673.5 1292.4,673.8 1294.6,642.4 1296.8,715.0 1299.0,656.0 1301.2,644.5 1303.4,649.6 1305.6,686.1 1307.8,664.6 1310.0,745.6 1312.2,683.2 1314.4,663.8 1316.6,591.1 1318.8,560.8 1321.0,502.7 1323.2,407.2 1325.4,364.5 1327.6,349.3 1329.8,339.4 1338.7,306.6 1345.3,271.7 1347.5,262.7 1349.7,257.3 1356.3,247.4 1362.9,240.6 1389.4,219.0 1400.4,210.6 1411.5,203.2 1424.7,195.6 1438.0,189.0 1451.3,183.3 1466.7,177.9 1482.2,173.3 1497.7,169.5 1515.4,166.1 1557.0,159.9 1616.1,153.9" stroke="#0000ff" stroke-width="5.4" fill="none" stroke-linejoin="round" clip-path="url(#cb)"/>
<g clip-path="url(#cbm)"><polygon points="1017.2,521.9 1024.5,538.8 1009.9,538.8" fill="#fff" stroke="#0000ff" stroke-width="2.0" stroke-linejoin="miter"/><polygon points="1057.3,587.7 1064.6,604.6 1050.0,604.6" fill="#fff" stroke="#0000ff" stroke-width="2.0" stroke-linejoin="miter"/><polygon points="1097.4,602.7 1104.7,619.6 1090.1,619.6" fill="#fff" stroke="#0000ff" stroke-width="2.0" stroke-linejoin="miter"/><polygon points="1137.5,608.7 1144.8,625.6 1130.2,625.6" fill="#fff" stroke="#0000ff" stroke-width="2.0" stroke-linejoin="miter"/><polygon points="1177.4,661.2 1184.7,678.1 1170.1,678.1" fill="#fff" stroke="#0000ff" stroke-width="2.0" stroke-linejoin="miter"/><polygon points="1217.3,637.6 1224.6,654.5 1210.0,654.5" fill="#fff" stroke="#0000ff" stroke-width="2.0" stroke-linejoin="miter"/><polygon points="1257.3,769.2 1264.6,786.1 1250.0,786.1" fill="#fff" stroke="#0000ff" stroke-width="2.0" stroke-linejoin="miter"/><polygon points="1297.4,703.7 1304.7,720.6 1290.1,720.6" fill="#fff" stroke="#0000ff" stroke-width="2.0" stroke-linejoin="miter"/><polygon points="1337.5,304.5 1344.8,321.4 1330.2,321.4" fill="#fff" stroke="#0000ff" stroke-width="2.0" stroke-linejoin="miter"/><polygon points="1377.6,216.9 1384.9,233.8 1370.3,233.8" fill="#fff" stroke="#0000ff" stroke-width="2.0" stroke-linejoin="miter"/><polygon points="1417.7,187.9 1425.0,204.8 1410.4,204.8" fill="#fff" stroke="#0000ff" stroke-width="2.0" stroke-linejoin="miter"/><polygon points="1457.9,169.6 1465.2,186.5 1450.6,186.5" fill="#fff" stroke="#0000ff" stroke-width="2.0" stroke-linejoin="miter"/><polygon points="1498.1,158.2 1505.4,175.1 1490.8,175.1" fill="#fff" stroke="#0000ff" stroke-width="2.0" stroke-linejoin="miter"/><polygon points="1538.1,151.2 1545.4,168.1 1530.8,168.1" fill="#fff" stroke="#0000ff" stroke-width="2.0" stroke-linejoin="miter"/><polygon points="1577.9,146.1 1585.2,163.0 1570.6,163.0" fill="#fff" stroke="#0000ff" stroke-width="2.0" stroke-linejoin="miter"/><polygon points="1617.7,142.6 1625.0,159.5 1610.4,159.5" fill="#fff" stroke="#0000ff" stroke-width="2.0" stroke-linejoin="miter"/></g>
<path d="M1017.2,541.4 1021.6,566.2 1023.8,573.7 1026.0,578.3 1030.4,585.4 1034.9,591.3 1039.3,595.9 1041.5,597.1 1043.7,599.5 1048.1,602.8 1054.7,609.2 1056.9,610.0 1059.1,611.7 1061.3,612.6 1063.5,614.5 1065.7,614.7 1068.0,615.7 1070.2,618.2 1074.6,620.7 1076.8,651.9 1079.0,632.3 1081.2,634.7 1083.4,639.6 1085.6,631.7 1087.8,635.1 1090.0,684.8 1092.2,635.4 1094.4,700.6 1096.6,664.0 1098.8,643.0 1101.1,670.7 1103.3,739.5 1105.5,665.7 1107.7,634.8 1109.9,650.9 1112.1,649.1 1114.3,638.4 1116.5,750.5 1118.7,685.4 1120.9,666.1 1123.1,683.0 1125.3,667.7 1127.5,668.6 1129.7,680.7 1131.9,661.6 1134.1,665.8 1138.5,696.0 1140.7,676.8 1142.8,758.0 1145.0,674.7 1147.2,677.1 1149.4,681.1 1151.6,758.0 1153.8,654.2 1156.0,747.0 1158.2,678.4 1160.4,643.6 1164.8,689.9 1167.0,666.7 1169.2,683.8 1171.4,689.9 1173.6,684.9 1175.8,667.5 1178.0,632.0 1180.2,687.6 1182.4,654.3 1184.6,684.3 1186.8,741.4 1189.0,653.4 1191.2,677.8 1193.3,689.8 1195.5,651.2 1197.7,753.3 1199.9,644.9 1202.1,686.2 1204.3,649.3 1206.5,738.3 1208.7,662.6 1210.9,677.0 1213.1,684.9 1215.3,654.7 1217.5,700.0 1221.9,651.3 1224.1,678.9 1226.3,663.3 1228.5,670.5 1230.7,758.0 1235.1,688.0 1237.3,668.5 1239.5,696.1 1241.7,683.3 1243.9,654.2 1246.1,658.7 1248.3,758.0 1250.5,687.0 1252.7,666.8 1254.9,687.0 1257.1,651.0 1259.3,645.4 1261.5,744.4 1263.7,758.0 1265.9,666.5 1268.2,691.0 1270.4,694.4 1272.6,667.0 1274.8,678.4 1279.2,653.5 1281.4,636.1 1283.6,668.4 1285.8,667.1 1288.0,692.2 1290.2,668.8 1292.4,675.6 1294.6,676.9 1296.8,676.7 1299.0,710.0 1301.2,675.3 1303.4,684.2 1305.6,676.2 1307.8,659.1 1310.0,670.1 1312.2,660.0 1314.4,656.1 1321.0,521.0 1323.2,419.3 1325.4,368.5 1327.6,351.4 1332.0,332.0 1338.7,308.4 1347.5,264.1 1349.7,258.0 1351.9,254.2 1356.3,247.9 1362.9,240.9 1391.6,217.5 1402.7,209.1 1413.7,201.8 1426.9,194.4 1440.2,188.0 1453.5,182.5 1469.0,177.2 1484.4,172.7 1499.9,169.1 1517.6,165.7 1559.2,159.7 1616.1,153.9" stroke="#008080" stroke-width="5.4" fill="none" stroke-linejoin="round" clip-path="url(#cb)"/>
<g clip-path="url(#cbm)"><polygon points="1010.1,535.8 1024.3,535.8 1017.2,551.2" fill="#fff" stroke="#008080" stroke-width="2.0" stroke-linejoin="miter"/><polygon points="1050.2,604.4 1064.4,604.4 1057.3,619.8" fill="#fff" stroke="#008080" stroke-width="2.0" stroke-linejoin="miter"/><polygon points="1090.3,658.4 1104.5,658.4 1097.4,673.8" fill="#fff" stroke="#008080" stroke-width="2.0" stroke-linejoin="miter"/><polygon points="1130.4,690.4 1144.6,690.4 1137.5,705.8" fill="#fff" stroke="#008080" stroke-width="2.0" stroke-linejoin="miter"/><polygon points="1170.3,626.4 1184.5,626.4 1177.4,641.8" fill="#fff" stroke="#008080" stroke-width="2.0" stroke-linejoin="miter"/><polygon points="1210.2,694.4 1224.4,694.4 1217.3,709.8" fill="#fff" stroke="#008080" stroke-width="2.0" stroke-linejoin="miter"/><polygon points="1250.2,645.4 1264.4,645.4 1257.3,660.8" fill="#fff" stroke="#008080" stroke-width="2.0" stroke-linejoin="miter"/><polygon points="1290.3,671.1 1304.5,671.1 1297.4,686.5" fill="#fff" stroke="#008080" stroke-width="2.0" stroke-linejoin="miter"/><polygon points="1330.4,311.6 1344.6,311.6 1337.5,327.0" fill="#fff" stroke="#008080" stroke-width="2.0" stroke-linejoin="miter"/><polygon points="1370.5,223.0 1384.7,223.0 1377.6,238.4" fill="#fff" stroke="#008080" stroke-width="2.0" stroke-linejoin="miter"/><polygon points="1410.6,193.6 1424.8,193.6 1417.7,209.0" fill="#fff" stroke="#008080" stroke-width="2.0" stroke-linejoin="miter"/><polygon points="1450.8,175.3 1465.0,175.3 1457.9,190.7" fill="#fff" stroke="#008080" stroke-width="2.0" stroke-linejoin="miter"/><polygon points="1491.0,163.9 1505.2,163.9 1498.1,179.3" fill="#fff" stroke="#008080" stroke-width="2.0" stroke-linejoin="miter"/><polygon points="1531.0,156.9 1545.2,156.9 1538.1,172.3" fill="#fff" stroke="#008080" stroke-width="2.0" stroke-linejoin="miter"/><polygon points="1570.8,151.8 1585.0,151.8 1577.9,167.2" fill="#fff" stroke="#008080" stroke-width="2.0" stroke-linejoin="miter"/><polygon points="1610.6,148.3 1624.8,148.3 1617.7,163.7" fill="#fff" stroke="#008080" stroke-width="2.0" stroke-linejoin="miter"/></g>
<path d="M1017.2,546.8 1019.4,557.5 1023.8,574.5 1026.0,578.5 1028.2,581.0 1032.6,588.8 1037.1,594.8 1043.7,607.5 1045.9,618.5 1048.1,616.3 1052.5,647.0 1056.9,635.0 1061.3,677.6 1063.5,652.2 1065.7,679.3 1068.0,662.5 1070.2,655.8 1072.4,696.5 1074.6,639.7 1076.8,661.2 1079.0,693.7 1081.2,743.3 1083.4,674.4 1085.6,694.0 1087.8,689.2 1090.0,743.5 1092.2,683.0 1094.4,685.0 1096.6,632.0 1098.8,741.1 1101.1,702.7 1103.3,641.2 1105.5,651.4 1107.7,681.4 1109.9,688.1 1112.1,661.7 1114.3,666.2 1116.5,698.1 1118.7,666.9 1120.9,652.0 1123.1,691.3 1125.3,660.8 1127.5,699.3 1129.7,652.7 1131.9,661.4 1134.1,704.6 1136.3,673.2 1138.5,656.0 1140.7,691.8 1142.8,703.5 1145.0,645.0 1147.2,680.7 1149.4,654.6 1151.6,689.7 1153.8,668.4 1156.0,702.0 1158.2,669.6 1160.4,697.3 1162.6,659.4 1164.8,685.3 1167.0,671.0 1169.2,687.1 1171.4,661.4 1173.6,700.2 1175.8,680.4 1178.0,644.0 1180.2,650.6 1182.4,730.6 1184.6,641.3 1186.8,695.6 1189.0,662.0 1191.2,679.4 1193.3,657.7 1195.5,697.7 1197.7,678.3 1199.9,650.8 1202.1,703.8 1204.3,668.7 1206.5,682.3 1208.7,677.2 1210.9,702.4 1213.1,758.0 1215.3,695.4 1217.5,715.0 1219.7,699.6 1221.9,697.9 1224.1,716.7 1228.5,666.4 1230.7,688.2 1235.1,700.2 1237.3,700.0 1239.5,715.2 1241.7,664.7 1243.9,647.0 1246.1,690.3 1248.3,660.9 1250.5,659.1 1254.9,703.4 1257.1,688.0 1259.3,699.6 1261.5,676.3 1263.7,690.0 1265.9,743.0 1268.2,658.6 1270.4,691.2 1272.6,676.5 1274.8,681.8 1277.0,665.5 1279.2,688.3 1281.4,647.7 1283.6,683.4 1285.8,650.3 1288.0,647.9 1290.2,667.2 1292.4,658.1 1294.6,686.8 1296.8,646.0 1299.0,677.1 1301.2,651.1 1303.4,716.5 1305.6,731.6 1307.8,683.5 1310.0,661.6 1312.2,647.2 1314.4,644.9 1316.6,758.0 1318.8,621.0 1321.0,545.5 1323.2,443.2 1325.4,377.7 1327.6,355.1 1329.8,343.7 1332.0,334.2 1338.7,311.1 1345.3,276.7 1347.5,266.4 1349.7,259.3 1354.1,251.8 1360.7,243.6 1365.1,239.6 1387.2,221.9 1420.3,197.8 1435.8,189.2 1451.3,182.3 1464.5,177.6 1480.0,173.1 1497.7,169.0 1517.6,165.1 1559.2,159.1 1616.1,153.3" stroke="#ff00ff" stroke-width="5.4" fill="none" stroke-linejoin="round" clip-path="url(#cb)"/>
<g clip-path="url(#cbm)"><polygon points="1010.2,546.8 1022.4,537.2 1022.4,556.4" fill="#fff" stroke="#ff00ff" stroke-width="2.0" stroke-linejoin="miter"/><polygon points="1050.3,635.0 1062.5,625.4 1062.5,644.6" fill="#fff" stroke="#ff00ff" stroke-width="2.0" stroke-linejoin="miter"/><polygon points="1090.4,632.0 1102.6,622.4 1102.6,641.6" fill="#fff" stroke="#ff00ff" stroke-width="2.0" stroke-linejoin="miter"/><polygon points="1130.5,656.0 1142.7,646.4 1142.7,665.6" fill="#fff" stroke="#ff00ff" stroke-width="2.0" stroke-linejoin="miter"/><polygon points="1170.4,644.0 1182.6,634.4 1182.6,653.6" fill="#fff" stroke="#ff00ff" stroke-width="2.0" stroke-linejoin="miter"/><polygon points="1210.3,715.0 1222.5,705.4 1222.5,724.6" fill="#fff" stroke="#ff00ff" stroke-width="2.0" stroke-linejoin="miter"/><polygon points="1250.3,688.0 1262.5,678.4 1262.5,697.6" fill="#fff" stroke="#ff00ff" stroke-width="2.0" stroke-linejoin="miter"/><polygon points="1290.4,646.0 1302.6,636.4 1302.6,655.6" fill="#fff" stroke="#ff00ff" stroke-width="2.0" stroke-linejoin="miter"/><polygon points="1330.5,319.3 1342.7,309.7 1342.7,328.9" fill="#fff" stroke="#ff00ff" stroke-width="2.0" stroke-linejoin="miter"/><polygon points="1370.6,229.1 1382.8,219.5 1382.8,238.7" fill="#fff" stroke="#ff00ff" stroke-width="2.0" stroke-linejoin="miter"/><polygon points="1410.7,199.2 1422.9,189.6 1422.9,208.8" fill="#fff" stroke="#ff00ff" stroke-width="2.0" stroke-linejoin="miter"/><polygon points="1450.9,179.8 1463.1,170.2 1463.1,189.4" fill="#fff" stroke="#ff00ff" stroke-width="2.0" stroke-linejoin="miter"/><polygon points="1491.1,169.0 1503.3,159.4 1503.3,178.6" fill="#fff" stroke="#ff00ff" stroke-width="2.0" stroke-linejoin="miter"/><polygon points="1531.1,162.0 1543.3,152.4 1543.3,171.6" fill="#fff" stroke="#ff00ff" stroke-width="2.0" stroke-linejoin="miter"/><polygon points="1570.9,156.9 1583.1,147.3 1583.1,166.5" fill="#fff" stroke="#ff00ff" stroke-width="2.0" stroke-linejoin="miter"/><polygon points="1610.7,153.3 1622.9,143.7 1622.9,162.9" fill="#fff" stroke="#ff00ff" stroke-width="2.0" stroke-linejoin="miter"/></g>
<path d="M1017.3 748.00h11M1017.3 731.68h6.6M1017.3 722.14h6.6M1017.3 715.37h6.6M1017.3 710.12h6.6M1017.3 705.82h6.6M1017.3 702.20h6.6M1017.3 699.05h6.6M1017.3 696.28h6.6M1017.3 693.80h11M1017.3 677.60h6.6M1017.3 668.13h6.6M1017.3 661.41h6.6M1017.3 656.20h6.6M1017.3 651.94h6.6M1017.3 648.33h6.6M1017.3 645.21h6.6M1017.3 642.46h6.6M1017.3 640.00h11M1017.3 623.80h6.6M1017.3 614.33h6.6M1017.3 607.61h6.6M1017.3 602.40h6.6M1017.3 598.14h6.6M1017.3 594.53h6.6M1017.3 591.41h6.6M1017.3 588.66h6.6M1017.3 586.20h11M1017.3 569.73h6.6M1017.3 560.10h6.6M1017.3 553.27h6.6M1017.3 547.97h6.6M1017.3 543.64h6.6M1017.3 539.97h6.6M1017.3 536.80h6.6M1017.3 534.00h6.6M1017.3 531.50h11M1017.3 515.12h6.6M1017.3 505.54h6.6M1017.3 498.75h6.6M1017.3 493.48h6.6M1017.3 489.17h6.6M1017.3 485.53h6.6M1017.3 482.37h6.6M1017.3 479.59h6.6M1017.3 477.10h11M1017.3 460.69h6.6M1017.3 451.10h6.6M1017.3 444.29h6.6M1017.3 439.01h6.6M1017.3 434.69h6.6M1017.3 431.04h6.6M1017.3 427.88h6.6M1017.3 425.09h6.6M1017.3 422.60h11M1017.3 406.12h6.6M1017.3 396.48h6.6M1017.3 389.64h6.6M1017.3 384.33h6.6M1017.3 380.00h6.6M1017.3 376.33h6.6M1017.3 373.16h6.6M1017.3 370.36h6.6M1017.3 367.85h11M1017.3 351.34h6.6M1017.3 341.68h6.6M1017.3 334.83h6.6M1017.3 329.51h6.6M1017.3 325.17h6.6M1017.3 321.50h6.6M1017.3 318.32h6.6M1017.3 315.51h6.6M1017.3 313.00h11M1017.3 296.67h6.6M1017.3 287.12h6.6M1017.3 280.34h6.6M1017.3 275.08h6.6M1017.3 270.79h6.6M1017.3 267.15h6.6M1017.3 264.01h6.6M1017.3 261.23h6.6M1017.3 258.75h11M1017.3 242.31h6.6M1017.3 232.70h6.6M1017.3 225.88h6.6M1017.3 220.59h6.6M1017.3 216.26h6.6M1017.3 212.61h6.6M1017.3 209.44h6.6M1017.3 206.65h6.6M1017.3 204.15h11M1017.3 187.65h6.6M1017.3 178.00h6.6M1017.3 171.16h6.6M1017.3 165.85h6.6M1017.3 161.51h6.6M1017.3 157.84h6.6M1017.3 154.66h6.6M1017.3 151.86h6.6M1017.3 149.35h11M1017.3 132.90h6.6M1017.3 123.28h6.6M1017.3 116.45h6.6M1017.3 111.15h6.6M1017.3 106.82h6.6M1017.3 103.17h6.6M1017.3 100.00h6.6M1017.3 97.20h6.6M1017.3 94.70h11M1017.20 748.0v13.5M1067.35 748.0v9M1117.50 748.0v13.5M1167.40 748.0v9M1217.30 748.0v13.5M1267.35 748.0v9M1317.40 748.0v13.5M1367.55 748.0v9M1417.70 748.0v13.5M1467.95 748.0v9M1518.20 748.0v13.5M1567.95 748.0v9M1617.70 748.0v13.5" stroke="#000" stroke-width="4.4" fill="none"/>
<rect x="1017.3" y="94.0" width="600.5" height="654.0" fill="none" stroke="#000" stroke-width="5.2" stroke-linejoin="round"/>
<path d="M1039.2 114.5H1093.5" stroke="#000000" stroke-width="5.4" stroke-linecap="butt"/>
<rect x="1060.2" y="108.7" width="10.6" height="11.6" fill="#fff" stroke="#000000" stroke-width="2.0"/>
<text transform="matrix(0.7836 0 0 1 1097.42 122.74)" font-size="26.09" font-weight="bold" fill="#000" font-family='"Liberation Sans", Arial, sans-serif'>1s</text>
<path d="M1039.2 145.5H1093.5" stroke="#ff0000" stroke-width="5.4" stroke-linecap="butt"/>
<ellipse cx="1065.5" cy="145.5" rx="4.6" ry="6.0" fill="#fff" stroke="#ff0000" stroke-width="2.0"/>
<text transform="matrix(0.8377 0 0 1 1097.39 152.85)" font-size="25.02" font-weight="bold" fill="#000" font-family='"Liberation Sans", Arial, sans-serif'>10s</text>
<path d="M1039.2 176.3H1093.5" stroke="#0000ff" stroke-width="5.4" stroke-linecap="butt"/>
<polygon points="1065.5,165.0 1072.8,181.9 1058.2,181.9" fill="#fff" stroke="#0000ff" stroke-width="2.0" stroke-linejoin="miter"/>
<text transform="matrix(0.8174 0 0 1 1097.91 184.75)" font-size="25.16" font-weight="bold" fill="#000" font-family='"Liberation Sans", Arial, sans-serif'>100s</text>
<path d="M1039.2 208.6H1093.5" stroke="#008080" stroke-width="5.4" stroke-linecap="butt"/>
<polygon points="1058.4,203.0 1072.6,203.0 1065.5,218.4" fill="#fff" stroke="#008080" stroke-width="2.0" stroke-linejoin="miter"/>
<text transform="matrix(0.8298 0 0 1 1097.90 216.55)" font-size="25.16" font-weight="bold" fill="#000" font-family='"Liberation Sans", Arial, sans-serif'>1000s</text>
<path d="M1039.2 239.8H1093.5" stroke="#ff00ff" stroke-width="5.4" stroke-linecap="butt"/>
<polygon points="1058.5,239.8 1070.7,230.2 1070.7,249.4" fill="#fff" stroke="#ff00ff" stroke-width="2.0" stroke-linejoin="miter"/>
<text transform="matrix(0.8278 0 0 1 1098.23 247.49)" font-size="25.07" font-weight="bold" fill="#000" font-family='"Liberation Sans", Arial, sans-serif'>3600s</text>
<text transform="matrix(0.8100 0 0 1 987.08 85.60)" font-size="25.66" font-weight="bold" fill="#000" font-family='"Liberation Sans", Arial, sans-serif'>-2</text>
<text transform="matrix(0.8436 0 0 1 942.74 111.15)" font-size="44.95" font-weight="bold" fill="#000" font-family='"Liberation Sans", Arial, sans-serif'>10</text>
<text transform="matrix(0.8100 0 0 1 986.09 195.05)" font-size="26.04" font-weight="bold" fill="#000" font-family='"Liberation Sans", Arial, sans-serif'>-4</text>
<text transform="matrix(0.8436 0 0 1 941.76 220.60)" font-size="44.95" font-weight="bold" fill="#000" font-family='"Liberation Sans", Arial, sans-serif'>10</text>
<text transform="matrix(0.8216 0 0 1 986.98 303.65)" font-size="25.30" font-weight="bold" fill="#000" font-family='"Liberation Sans", Arial, sans-serif'>-6</text>
<text transform="matrix(0.8436 0 0 1 942.64 329.45)" font-size="44.95" font-weight="bold" fill="#000" font-family='"Liberation Sans", Arial, sans-serif'>10</text>
<text transform="matrix(0.8216 0 0 1 986.88 413.25)" font-size="25.30" font-weight="bold" fill="#000" font-family='"Liberation Sans", Arial, sans-serif'>-8</text>
<text transform="matrix(0.8436 0 0 1 942.54 439.05)" font-size="44.95" font-weight="bold" fill="#000" font-family='"Liberation Sans", Arial, sans-serif'>10</text>
<text transform="matrix(0.8723 0 0 1 973.69 522.15)" font-size="25.30" font-weight="bold" fill="#000" font-family='"Liberation Sans", Arial, sans-serif'>-10</text>
<text transform="matrix(0.8436 0 0 1 929.40 547.95)" font-size="44.95" font-weight="bold" fill="#000" font-family='"Liberation Sans", Arial, sans-serif'>10</text>
<text transform="matrix(0.8600 0 0 1 973.69 630.90)" font-size="25.66" font-weight="bold" fill="#000" font-family='"Liberation Sans", Arial, sans-serif'>-12</text>
<text transform="matrix(0.8436 0 0 1 929.40 656.45)" font-size="44.95" font-weight="bold" fill="#000" font-family='"Liberation Sans", Arial, sans-serif'>10</text>
<text transform="matrix(0.8600 0 0 1 972.46 738.90)" font-size="26.04" font-weight="bold" fill="#000" font-family='"Liberation Sans", Arial, sans-serif'>-14</text>
<text transform="matrix(0.8436 0 0 1 928.18 764.45)" font-size="44.95" font-weight="bold" fill="#000" font-family='"Liberation Sans", Arial, sans-serif'>10</text>
<text transform="matrix(0.8540 0 0 1 988.36 801.13)" font-size="45.77" font-weight="bold" fill="#000" font-family='"Liberation Sans", Arial, sans-serif'>-30</text>
<text transform="matrix(0.8540 0 0 1 1088.56 801.24)" font-size="45.94" font-weight="bold" fill="#000" font-family='"Liberation Sans", Arial, sans-serif'>-20</text>
<text transform="matrix(0.8540 0 0 1 1188.36 801.24)" font-size="45.94" font-weight="bold" fill="#000" font-family='"Liberation Sans", Arial, sans-serif'>-10</text>
<text transform="matrix(0.8540 0 0 1 1305.91 801.24)" font-size="45.94" font-weight="bold" fill="#000" font-family='"Liberation Sans", Arial, sans-serif'>0</text>
<text transform="matrix(0.8540 0 0 1 1394.89 801.24)" font-size="45.94" font-weight="bold" fill="#000" font-family='"Liberation Sans", Arial, sans-serif'>10</text>
<text transform="matrix(0.8540 0 0 1 1495.93 801.24)" font-size="45.94" font-weight="bold" fill="#000" font-family='"Liberation Sans", Arial, sans-serif'>20</text>
<text transform="matrix(0.8540 0 0 1 1595.75 801.13)" font-size="45.77" font-weight="bold" fill="#000" font-family='"Liberation Sans", Arial, sans-serif'>30</text>
<text transform="matrix(0.8463 0 0 1 1250.16 863.10)" font-size="53.96" font-weight="bold" fill="#000" font-family='"Liberation Sans", Arial, sans-serif'>V</text>
<text transform="matrix(0.8348 0 0 1 1283.93 885.88)" font-size="31.94" font-weight="bold" fill="#000" font-family='"Liberation Sans", Arial, sans-serif'>G</text>
<text transform="matrix(0.9237 0 0 1 1320.18 863.52)" font-size="52.44" font-weight="bold" fill="#000" font-family='"Liberation Sans", Arial, sans-serif'>(V)</text>
<text transform="matrix(0 -0.9164 1 0 907.90 526.12)" font-size="52.07" font-weight="bold" fill="#000" font-family='"Liberation Sans", Arial, sans-serif'>I</text>
<text transform="matrix(0 -1.0820 1 0 926.30 512.16)" font-size="32.29" font-weight="bold" fill="#000" font-family='"Liberation Sans", Arial, sans-serif'>D</text>
<text transform="matrix(0 -1.1461 1 0 908.01 471.07)" font-size="50.08" font-weight="bold" fill="#000" font-family='"Liberation Sans", Arial, sans-serif'>(A)</text>
<text transform="matrix(0.9718 0 0 1 1034.32 301.31)" font-size="28.71" font-weight="bold" fill="#000" font-family='"Liberation Sans", Arial, sans-serif'>NBTS condition</text>
<rect x="1034.8" y="304.6" width="208.4" height="2.2" fill="#111"/>
<text transform="matrix(0.8282 0 0 1 1035.38 347.40)" font-size="29.38" font-weight="normal" fill="#111" font-family='"Liberation Sans", Arial, sans-serif'>V</text>
<text transform="matrix(0.8622 0 0 1 1051.19 353.37)" font-size="23.46" font-weight="normal" fill="#111" font-family='"Liberation Sans", Arial, sans-serif'>G</text>
<text transform="matrix(0.8869 0 0 1 1064.41 347.31)" font-size="29.12" font-weight="normal" fill="#111" font-family='"Liberation Sans", Arial, sans-serif'>:-20V</text>
<text transform="matrix(0.8580 0 0 1 1035.38 388.50)" font-size="28.36" font-weight="normal" fill="#111" font-family='"Liberation Sans", Arial, sans-serif'>V</text>
<text transform="matrix(0.6704 0 0 1 1051.45 394.00)" font-size="26.18" font-weight="normal" fill="#111" font-family='"Liberation Sans", Arial, sans-serif'>D</text>
<text transform="matrix(0.9136 0 0 1 1064.45 388.42)" font-size="27.84" font-weight="normal" fill="#111" font-family='"Liberation Sans", Arial, sans-serif'>:10.1V</text>
<text transform="matrix(0.9208 0 0 1 1036.61 423.30)" font-size="28.39" font-weight="normal" fill="#f00" font-family='"Liberation Sans", Arial, sans-serif' stroke="#f00" stroke-width="0.9" stroke-linejoin="round">Temp.:50°C</text>
<text transform="matrix(1.1452 0 0 1 513.87 461.03)" font-size="32.88" font-weight="normal" fill="#f00" font-family='"Noto Sans CJK KR", "Noto Sans CJK JP", sans-serif'>△</text>
<text transform="matrix(0.6953 0 0 1 557.20 467.00)" font-size="57.31" font-weight="bold" fill="#f00" font-family='"Liberation Sans", Arial, sans-serif'>V</text>
<text transform="matrix(0.8921 0 0 1 585.49 475.24)" font-size="36.46" font-weight="bold" fill="#f00" font-family='"Liberation Sans", Arial, sans-serif'>th</text>
<text transform="matrix(1.0065 0 0 1 612.67 460.00)" font-size="49.50" font-weight="bold" fill="#f00" font-family='"Liberation Sans", Arial, sans-serif'>:</text>
<text transform="matrix(0.7702 0 0 1 642.65 467.60)" font-size="57.35" font-weight="bold" fill="#f00" font-family='"Liberation Sans", Arial, sans-serif'>2.4V</text>
<text transform="matrix(1.1138 0 0 1 1342.28 461.64)" font-size="33.62" font-weight="normal" fill="#f00" font-family='"Noto Sans CJK KR", "Noto Sans CJK JP", sans-serif'>△</text>
<text transform="matrix(0.7042 0 0 1 1385.60 466.60)" font-size="57.02" font-weight="bold" fill="#f00" font-family='"Liberation Sans", Arial, sans-serif'>V</text>
<text transform="matrix(0.8996 0 0 1 1414.30 475.74)" font-size="35.65" font-weight="bold" fill="#f00" font-family='"Liberation Sans", Arial, sans-serif'>th</text>
<text transform="matrix(0.8516 0 0 1 1442.17 460.40)" font-size="51.09" font-weight="bold" fill="#f00" font-family='"Liberation Sans", Arial, sans-serif'>:</text>
<text transform="matrix(0.7907 0 0 1 1470.72 466.64)" font-size="56.25" font-weight="bold" fill="#f00" font-family='"Liberation Sans", Arial, sans-serif'>0.4V</text>
<path d="M288.4 981.6V1634.4M388.8 981.6V1634.4M488.8 981.6V1634.4M589.0 981.6V1634.4M689.7 981.6V1634.4M188.3 1617.6H789.5M188.3 1556.8H789.5M188.3 1497.6H789.5M188.3 1438.4H789.5M188.3 1379.1H789.5M188.3 1320.3H789.5M188.3 1260.6H789.5M188.3 1200.5H789.5M188.3 1141.3H789.5M188.3 1082.1H789.5M188.3 1022.8H789.5" stroke="#c9c9c9" stroke-width="1.5" fill="none"/>
<path d="M188.0,1444.9 191.0,1449.0 195.0,1452.8 199.0,1455.6 202.1,1456.6 213.1,1458.9 260.3,1465.4 311.5,1470.1 452.8,1480.6 469.8,1481.1 472.8,1480.6 475.8,1479.3 476.8,1478.6 477.8,1474.4 480.8,1444.7 487.8,1338.0 489.8,1314.7 491.8,1299.0 494.8,1281.0 504.8,1233.2 510.8,1210.0 514.9,1198.1 518.9,1188.4 523.9,1179.2 536.9,1160.2 549.9,1138.0 555.9,1130.9 571.0,1115.9 580.0,1107.6 587.0,1102.2 596.0,1096.8 606.1,1091.8 633.3,1080.8 659.5,1072.0 683.7,1066.0 744.6,1054.0 768.5,1050.6 789.5,1048.4" stroke="#000000" stroke-width="5.0" fill="none" stroke-linejoin="round" clip-path="url(#cc)"/>
<g clip-path="url(#ccm)"><rect x="183.0" y="1439.4" width="10.0" height="11.0" fill="#fff" stroke="#000000" stroke-width="2.0"/><rect x="223.2" y="1455.4" width="10.0" height="11.0" fill="#fff" stroke="#000000" stroke-width="2.0"/><rect x="263.3" y="1460.8" width="10.0" height="11.0" fill="#fff" stroke="#000000" stroke-width="2.0"/><rect x="303.5" y="1464.4" width="10.0" height="11.0" fill="#fff" stroke="#000000" stroke-width="2.0"/><rect x="343.6" y="1467.3" width="10.0" height="11.0" fill="#fff" stroke="#000000" stroke-width="2.0"/><rect x="383.8" y="1470.3" width="10.0" height="11.0" fill="#fff" stroke="#000000" stroke-width="2.0"/><rect x="423.8" y="1473.3" width="10.0" height="11.0" fill="#fff" stroke="#000000" stroke-width="2.0"/><rect x="463.8" y="1475.6" width="10.0" height="11.0" fill="#fff" stroke="#000000" stroke-width="2.0"/><rect x="503.8" y="1211.2" width="10.0" height="11.0" fill="#fff" stroke="#000000" stroke-width="2.0"/><rect x="543.9" y="1134.0" width="10.0" height="11.0" fill="#fff" stroke="#000000" stroke-width="2.0"/><rect x="584.0" y="1095.4" width="10.0" height="11.0" fill="#fff" stroke="#000000" stroke-width="2.0"/><rect x="624.3" y="1076.8" width="10.0" height="11.0" fill="#fff" stroke="#000000" stroke-width="2.0"/><rect x="664.6" y="1063.7" width="10.0" height="11.0" fill="#fff" stroke="#000000" stroke-width="2.0"/><rect x="704.7" y="1055.4" width="10.0" height="11.0" fill="#fff" stroke="#000000" stroke-width="2.0"/><rect x="744.6" y="1047.7" width="10.0" height="11.0" fill="#fff" stroke="#000000" stroke-width="2.0"/><rect x="784.5" y="1042.9" width="10.0" height="11.0" fill="#fff" stroke="#000000" stroke-width="2.0"/></g>
<path d="M188.0,1432.5 191.0,1437.0 195.0,1440.9 199.0,1443.6 204.1,1445.6 216.1,1448.6 262.3,1457.1 281.4,1459.5 306.5,1462.0 422.8,1470.5 433.8,1471.6 459.8,1475.3 467.8,1475.8 472.8,1475.5 482.8,1322.2 484.8,1308.2 491.8,1269.1 496.8,1244.2 501.8,1222.9 505.8,1208.9 514.9,1181.1 517.9,1172.9 520.9,1166.7 526.9,1156.2 532.9,1147.4 540.9,1137.4 550.9,1127.0 578.0,1105.3 586.0,1099.7 593.0,1095.7 603.1,1090.9 615.2,1085.9 650.4,1073.0 662.5,1069.3 673.6,1066.5 745.6,1052.6 768.5,1049.4 789.5,1047.2" stroke="#ff0000" stroke-width="5.0" fill="none" stroke-linejoin="round" clip-path="url(#cc)"/>
<g clip-path="url(#ccm)"><ellipse cx="188.0" cy="1432.5" rx="4.5" ry="5.9" fill="#fff" stroke="#ff0000" stroke-width="2.0"/><ellipse cx="228.2" cy="1450.8" rx="4.5" ry="5.9" fill="#fff" stroke="#ff0000" stroke-width="2.0"/><ellipse cx="268.3" cy="1458.0" rx="4.5" ry="5.9" fill="#fff" stroke="#ff0000" stroke-width="2.0"/><ellipse cx="308.5" cy="1462.1" rx="4.5" ry="5.9" fill="#fff" stroke="#ff0000" stroke-width="2.0"/><ellipse cx="348.6" cy="1465.1" rx="4.5" ry="5.9" fill="#fff" stroke="#ff0000" stroke-width="2.0"/><ellipse cx="388.8" cy="1468.1" rx="4.5" ry="5.9" fill="#fff" stroke="#ff0000" stroke-width="2.0"/><ellipse cx="428.8" cy="1471.0" rx="4.5" ry="5.9" fill="#fff" stroke="#ff0000" stroke-width="2.0"/><ellipse cx="468.8" cy="1475.8" rx="4.5" ry="5.9" fill="#fff" stroke="#ff0000" stroke-width="2.0"/><ellipse cx="508.8" cy="1199.6" rx="4.5" ry="5.9" fill="#fff" stroke="#ff0000" stroke-width="2.0"/><ellipse cx="548.9" cy="1128.9" rx="4.5" ry="5.9" fill="#fff" stroke="#ff0000" stroke-width="2.0"/><ellipse cx="589.0" cy="1097.9" rx="4.5" ry="5.9" fill="#fff" stroke="#ff0000" stroke-width="2.0"/><ellipse cx="629.3" cy="1080.6" rx="4.5" ry="5.9" fill="#fff" stroke="#ff0000" stroke-width="2.0"/><ellipse cx="669.6" cy="1067.4" rx="4.5" ry="5.9" fill="#fff" stroke="#ff0000" stroke-width="2.0"/><ellipse cx="709.7" cy="1059.7" rx="4.5" ry="5.9" fill="#fff" stroke="#ff0000" stroke-width="2.0"/><ellipse cx="749.6" cy="1052.0" rx="4.5" ry="5.9" fill="#fff" stroke="#ff0000" stroke-width="2.0"/><ellipse cx="789.5" cy="1047.2" rx="4.5" ry="5.9" fill="#fff" stroke="#ff0000" stroke-width="2.0"/></g>
<path d="M188.0,1424.2 191.0,1437.7 192.0,1440.4 195.0,1444.8 197.0,1446.9 200.0,1448.8 206.1,1450.9 212.1,1452.3 262.3,1461.3 299.4,1465.5 348.6,1469.3 383.8,1473.0 414.8,1475.4 433.8,1475.7 443.8,1474.6 445.8,1473.7 448.8,1470.6 452.8,1464.2 455.8,1455.2 458.8,1441.9 462.8,1408.8 466.8,1355.4 468.8,1335.6 470.8,1323.9 475.8,1300.5 485.8,1234.0 489.8,1214.7 495.8,1194.5 502.8,1178.8 514.9,1158.7 528.9,1139.7 538.9,1127.9 553.9,1111.7 557.9,1107.7 561.9,1104.6 570.0,1099.6 579.0,1094.9 608.1,1081.1 623.2,1074.9 634.3,1071.4 648.4,1067.8 701.7,1056.9 727.6,1053.0 789.5,1045.4" stroke="#0000ff" stroke-width="5.0" fill="none" stroke-linejoin="round" clip-path="url(#cc)"/>
<g clip-path="url(#ccm)"><polygon points="188.0,1414.2 194.9,1430.1 181.1,1430.1" fill="#fff" stroke="#0000ff" stroke-width="2.0" stroke-linejoin="miter"/><polygon points="228.2,1445.0 235.1,1460.9 221.3,1460.9" fill="#fff" stroke="#0000ff" stroke-width="2.0" stroke-linejoin="miter"/><polygon points="268.3,1452.1 275.2,1468.0 261.4,1468.0" fill="#fff" stroke="#0000ff" stroke-width="2.0" stroke-linejoin="miter"/><polygon points="308.5,1456.3 315.4,1472.2 301.6,1472.2" fill="#fff" stroke="#0000ff" stroke-width="2.0" stroke-linejoin="miter"/><polygon points="348.6,1459.3 355.5,1475.2 341.7,1475.2" fill="#fff" stroke="#0000ff" stroke-width="2.0" stroke-linejoin="miter"/><polygon points="388.8,1463.4 395.7,1479.3 381.9,1479.3" fill="#fff" stroke="#0000ff" stroke-width="2.0" stroke-linejoin="miter"/><polygon points="428.8,1465.8 435.7,1481.7 421.9,1481.7" fill="#fff" stroke="#0000ff" stroke-width="2.0" stroke-linejoin="miter"/><polygon points="468.8,1325.6 475.7,1341.5 461.9,1341.5" fill="#fff" stroke="#0000ff" stroke-width="2.0" stroke-linejoin="miter"/><polygon points="508.8,1158.3 515.7,1174.2 501.9,1174.2" fill="#fff" stroke="#0000ff" stroke-width="2.0" stroke-linejoin="miter"/><polygon points="548.9,1107.1 555.8,1123.0 542.0,1123.0" fill="#fff" stroke="#0000ff" stroke-width="2.0" stroke-linejoin="miter"/><polygon points="589.0,1080.2 595.9,1096.1 582.1,1096.1" fill="#fff" stroke="#0000ff" stroke-width="2.0" stroke-linejoin="miter"/><polygon points="629.3,1062.8 636.2,1078.7 622.4,1078.7" fill="#fff" stroke="#0000ff" stroke-width="2.0" stroke-linejoin="miter"/><polygon points="669.6,1053.3 676.5,1069.2 662.7,1069.2" fill="#fff" stroke="#0000ff" stroke-width="2.0" stroke-linejoin="miter"/><polygon points="709.7,1045.6 716.6,1061.5 702.8,1061.5" fill="#fff" stroke="#0000ff" stroke-width="2.0" stroke-linejoin="miter"/><polygon points="749.6,1040.2 756.5,1056.1 742.7,1056.1" fill="#fff" stroke="#0000ff" stroke-width="2.0" stroke-linejoin="miter"/><polygon points="789.5,1035.4 796.4,1051.3 782.6,1051.3" fill="#fff" stroke="#0000ff" stroke-width="2.0" stroke-linejoin="miter"/></g>
<path d="M188.0,1349.4 191.0,1369.3 193.0,1376.3 196.0,1382.9 201.1,1388.9 206.1,1393.1 211.1,1395.6 220.1,1398.2 228.2,1399.2 353.7,1399.2 375.7,1398.1 384.8,1396.6 388.8,1395.1 391.8,1392.9 393.8,1389.5 396.8,1382.2 398.8,1375.4 402.8,1356.9 406.8,1330.8 414.8,1300.0 419.8,1265.3 421.8,1256.8 427.8,1236.2 432.8,1213.1 437.8,1198.1 446.8,1178.5 450.8,1171.6 455.8,1164.2 461.8,1157.1 474.8,1143.3 493.8,1125.5 504.8,1116.5 515.9,1109.7 549.9,1093.8 578.0,1078.5 590.0,1073.8 602.1,1070.8 628.3,1065.9 660.5,1059.1 687.7,1054.2 711.7,1050.5 750.6,1046.0 789.5,1040.7" stroke="#008080" stroke-width="5.0" fill="none" stroke-linejoin="round" clip-path="url(#cc)"/>
<g clip-path="url(#ccm)"><polygon points="181.1,1343.7 194.9,1343.7 188.0,1358.6" fill="#fff" stroke="#008080" stroke-width="2.0" stroke-linejoin="miter"/><polygon points="221.3,1393.5 235.1,1393.5 228.2,1408.4" fill="#fff" stroke="#008080" stroke-width="2.0" stroke-linejoin="miter"/><polygon points="261.4,1393.5 275.2,1393.5 268.3,1408.4" fill="#fff" stroke="#008080" stroke-width="2.0" stroke-linejoin="miter"/><polygon points="301.6,1393.5 315.4,1393.5 308.5,1408.4" fill="#fff" stroke="#008080" stroke-width="2.0" stroke-linejoin="miter"/><polygon points="341.7,1393.5 355.5,1393.5 348.6,1408.4" fill="#fff" stroke="#008080" stroke-width="2.0" stroke-linejoin="miter"/><polygon points="381.9,1389.4 395.7,1389.4 388.8,1404.3" fill="#fff" stroke="#008080" stroke-width="2.0" stroke-linejoin="miter"/><polygon points="421.9,1226.4 435.7,1226.4 428.8,1241.3" fill="#fff" stroke="#008080" stroke-width="2.0" stroke-linejoin="miter"/><polygon points="461.9,1143.9 475.7,1143.9 468.8,1158.8" fill="#fff" stroke="#008080" stroke-width="2.0" stroke-linejoin="miter"/><polygon points="501.9,1108.1 515.7,1108.1 508.8,1123.0" fill="#fff" stroke="#008080" stroke-width="2.0" stroke-linejoin="miter"/><polygon points="542.0,1088.6 555.8,1088.6 548.9,1103.5" fill="#fff" stroke="#008080" stroke-width="2.0" stroke-linejoin="miter"/><polygon points="582.1,1068.4 595.9,1068.4 589.0,1083.3" fill="#fff" stroke="#008080" stroke-width="2.0" stroke-linejoin="miter"/><polygon points="622.4,1060.0 636.2,1060.0 629.3,1074.9" fill="#fff" stroke="#008080" stroke-width="2.0" stroke-linejoin="miter"/><polygon points="662.7,1051.6 676.5,1051.6 669.6,1066.5" fill="#fff" stroke="#008080" stroke-width="2.0" stroke-linejoin="miter"/><polygon points="702.8,1045.1 716.6,1045.1 709.7,1060.0" fill="#fff" stroke="#008080" stroke-width="2.0" stroke-linejoin="miter"/><polygon points="742.7,1040.4 756.5,1040.4 749.6,1055.3" fill="#fff" stroke="#008080" stroke-width="2.0" stroke-linejoin="miter"/><polygon points="782.6,1035.0 796.4,1035.0 789.5,1049.9" fill="#fff" stroke="#008080" stroke-width="2.0" stroke-linejoin="miter"/></g>
<path d="M188.0,1328.6 192.0,1353.6 194.0,1362.0 195.0,1364.0 198.0,1368.2 206.1,1375.8 210.1,1378.5 215.1,1380.4 221.1,1382.1 227.2,1383.1 259.3,1384.9 348.6,1385.0 351.7,1384.5 354.7,1383.3 361.7,1379.3 366.7,1374.4 371.7,1367.4 375.7,1358.3 378.8,1347.3 385.8,1315.7 390.8,1299.7 396.8,1265.4 403.8,1232.8 408.8,1216.7 420.8,1184.9 423.8,1178.9 429.8,1171.2 436.8,1158.8 439.8,1154.4 463.8,1128.4 469.8,1122.9 479.8,1115.8 492.8,1108.2 525.9,1091.9 541.9,1084.6 565.0,1076.4 619.2,1060.6 652.4,1052.3 673.6,1048.4 709.7,1044.3 755.6,1040.1 789.5,1036.0" stroke="#ff00ff" stroke-width="5.0" fill="none" stroke-linejoin="round" clip-path="url(#cc)"/>
<g clip-path="url(#ccm)"><polygon points="181.7,1328.6 192.5,1319.3 192.5,1337.9" fill="#fff" stroke="#ff00ff" stroke-width="2.0" stroke-linejoin="miter"/><polygon points="221.9,1383.2 232.7,1373.9 232.7,1392.5" fill="#fff" stroke="#ff00ff" stroke-width="2.0" stroke-linejoin="miter"/><polygon points="262.0,1385.0 272.8,1375.7 272.8,1394.3" fill="#fff" stroke="#ff00ff" stroke-width="2.0" stroke-linejoin="miter"/><polygon points="302.2,1385.0 313.0,1375.7 313.0,1394.3" fill="#fff" stroke="#ff00ff" stroke-width="2.0" stroke-linejoin="miter"/><polygon points="342.3,1385.0 353.1,1375.7 353.1,1394.3" fill="#fff" stroke="#ff00ff" stroke-width="2.0" stroke-linejoin="miter"/><polygon points="382.5,1306.4 393.3,1297.1 393.3,1315.7" fill="#fff" stroke="#ff00ff" stroke-width="2.0" stroke-linejoin="miter"/><polygon points="422.5,1172.6 433.3,1163.3 433.3,1181.9" fill="#fff" stroke="#ff00ff" stroke-width="2.0" stroke-linejoin="miter"/><polygon points="462.5,1123.7 473.3,1114.4 473.3,1133.0" fill="#fff" stroke="#ff00ff" stroke-width="2.0" stroke-linejoin="miter"/><polygon points="502.5,1100.2 513.3,1090.9 513.3,1109.5" fill="#fff" stroke="#ff00ff" stroke-width="2.0" stroke-linejoin="miter"/><polygon points="542.6,1081.8 553.4,1072.5 553.4,1091.1" fill="#fff" stroke="#ff00ff" stroke-width="2.0" stroke-linejoin="miter"/><polygon points="582.7,1069.3 593.5,1060.0 593.5,1078.6" fill="#fff" stroke="#ff00ff" stroke-width="2.0" stroke-linejoin="miter"/><polygon points="623.0,1058.0 633.8,1048.7 633.8,1067.3" fill="#fff" stroke="#ff00ff" stroke-width="2.0" stroke-linejoin="miter"/><polygon points="663.3,1049.0 674.1,1039.7 674.1,1058.3" fill="#fff" stroke="#ff00ff" stroke-width="2.0" stroke-linejoin="miter"/><polygon points="703.4,1044.3 714.2,1035.0 714.2,1053.6" fill="#fff" stroke="#ff00ff" stroke-width="2.0" stroke-linejoin="miter"/><polygon points="743.3,1040.7 754.1,1031.4 754.1,1050.0" fill="#fff" stroke="#ff00ff" stroke-width="2.0" stroke-linejoin="miter"/><polygon points="783.2,1036.0 794.0,1026.7 794.0,1045.3" fill="#fff" stroke="#ff00ff" stroke-width="2.0" stroke-linejoin="miter"/></g>
<path d="M188.3 1630.79h6.3M188.3 1626.81h6.3M188.3 1623.36h6.3M188.3 1620.32h6.3M188.3 1617.60h10.8M188.3 1599.30h6.3M188.3 1588.59h6.3M188.3 1580.99h6.3M188.3 1575.10h6.3M188.3 1570.29h6.3M188.3 1566.22h6.3M188.3 1562.69h6.3M188.3 1559.58h6.3M188.3 1556.80h10.8M188.3 1538.98h6.3M188.3 1528.55h6.3M188.3 1521.16h6.3M188.3 1515.42h6.3M188.3 1510.73h6.3M188.3 1506.77h6.3M188.3 1503.34h6.3M188.3 1500.31h6.3M188.3 1497.60h10.8M188.3 1479.78h6.3M188.3 1469.35h6.3M188.3 1461.96h6.3M188.3 1456.22h6.3M188.3 1451.53h6.3M188.3 1447.57h6.3M188.3 1444.14h6.3M188.3 1441.11h6.3M188.3 1438.40h10.8M188.3 1420.55h6.3M188.3 1410.11h6.3M188.3 1402.70h6.3M188.3 1396.95h6.3M188.3 1392.26h6.3M188.3 1388.29h6.3M188.3 1384.85h6.3M188.3 1381.81h6.3M188.3 1379.10h10.8M188.3 1361.40h6.3M188.3 1351.05h6.3M188.3 1343.70h6.3M188.3 1338.00h6.3M188.3 1333.34h6.3M188.3 1329.41h6.3M188.3 1326.00h6.3M188.3 1322.99h6.3M188.3 1320.30h10.8M188.3 1302.33h6.3M188.3 1291.82h6.3M188.3 1284.36h6.3M188.3 1278.57h6.3M188.3 1273.84h6.3M188.3 1269.85h6.3M188.3 1266.39h6.3M188.3 1263.33h6.3M188.3 1260.60h10.8M188.3 1242.51h6.3M188.3 1231.93h6.3M188.3 1224.42h6.3M188.3 1218.59h6.3M188.3 1213.83h6.3M188.3 1209.81h6.3M188.3 1206.32h6.3M188.3 1203.25h6.3M188.3 1200.50h10.8M188.3 1182.68h6.3M188.3 1172.25h6.3M188.3 1164.86h6.3M188.3 1159.12h6.3M188.3 1154.43h6.3M188.3 1150.47h6.3M188.3 1147.04h6.3M188.3 1144.01h6.3M188.3 1141.30h10.8M188.3 1123.48h6.3M188.3 1113.05h6.3M188.3 1105.66h6.3M188.3 1099.92h6.3M188.3 1095.23h6.3M188.3 1091.27h6.3M188.3 1087.84h6.3M188.3 1084.81h6.3M188.3 1082.10h10.8M188.3 1064.25h6.3M188.3 1053.81h6.3M188.3 1046.40h6.3M188.3 1040.65h6.3M188.3 1035.96h6.3M188.3 1031.99h6.3M188.3 1028.55h6.3M188.3 1025.51h6.3M188.3 1022.80h10.8M188.3 1004.97h6.3M188.3 994.54h6.3M188.3 987.14h6.3M188.3 981.40h6.3M188.00 1634.4v12.0M238.20 1634.4v7.0M288.40 1634.4v12.0M338.60 1634.4v7.0M388.80 1634.4v12.0M438.80 1634.4v7.0M488.80 1634.4v12.0M538.90 1634.4v7.0M589.00 1634.4v12.0M639.35 1634.4v7.0M689.70 1634.4v12.0M739.60 1634.4v7.0M789.50 1634.4v12.0" stroke="#000" stroke-width="3.6" fill="none"/>
<rect x="188.3" y="981.6" width="601.2" height="652.8" fill="none" stroke="#000" stroke-width="4.0" stroke-linejoin="round"/>
<path d="M207.5 1005.8H260.7" stroke="#000000" stroke-width="5.0" stroke-linecap="butt"/>
<rect x="228.6" y="1000.3" width="10.0" height="11.0" fill="#fff" stroke="#000000" stroke-width="2.0"/>
<text transform="matrix(0.8440 0 0 1 264.85 1012.64)" font-size="25.52" font-weight="bold" fill="#000" font-family='"Liberation Sans", Arial, sans-serif'>1s</text>
<path d="M207.5 1035.9H260.7" stroke="#ff0000" stroke-width="5.0" stroke-linecap="butt"/>
<ellipse cx="233.6" cy="1035.9" rx="4.5" ry="5.9" fill="#fff" stroke="#ff0000" stroke-width="2.0"/>
<text transform="matrix(0.8808 0 0 1 264.85 1044.15)" font-size="24.59" font-weight="bold" fill="#000" font-family='"Liberation Sans", Arial, sans-serif'>10s</text>
<path d="M207.5 1067.7H260.7" stroke="#0000ff" stroke-width="5.0" stroke-linecap="butt"/>
<polygon points="233.6,1057.7 240.5,1073.6 226.7,1073.6" fill="#fff" stroke="#0000ff" stroke-width="2.0" stroke-linejoin="miter"/>
<text transform="matrix(0.8205 0 0 1 264.89 1076.54)" font-size="25.58" font-weight="bold" fill="#000" font-family='"Liberation Sans", Arial, sans-serif'>100s</text>
<path d="M207.5 1099.3H260.7" stroke="#008080" stroke-width="5.0" stroke-linecap="butt"/>
<polygon points="226.7,1093.6 240.5,1093.6 233.6,1108.5" fill="#fff" stroke="#008080" stroke-width="2.0" stroke-linejoin="miter"/>
<text transform="matrix(0.8599 0 0 1 264.89 1106.46)" font-size="24.45" font-weight="bold" fill="#000" font-family='"Liberation Sans", Arial, sans-serif'>1000s</text>
<path d="M207.5 1129.6H260.7" stroke="#ff00ff" stroke-width="5.0" stroke-linecap="butt"/>
<polygon points="227.3,1129.6 238.1,1120.3 238.1,1138.9" fill="#fff" stroke="#ff00ff" stroke-width="2.0" stroke-linejoin="miter"/>
<text transform="matrix(0.8082 0 0 1 265.73 1138.38)" font-size="25.63" font-weight="bold" fill="#000" font-family='"Liberation Sans", Arial, sans-serif'>3600s</text>
<text transform="matrix(0.8000 0 0 1 166.32 1075.30)" font-size="22.69" font-weight="bold" fill="#000" font-family='"Liberation Sans", Arial, sans-serif'>4</text>
<rect x="160.3" y="1070.6" width="3.4" height="1.7" fill="#000"/>
<text transform="matrix(0.8696 0 0 1 124.22 1094.54)" font-size="36.18" font-weight="bold" fill="#000" font-family='"Liberation Sans", Arial, sans-serif'>10</text>
<text transform="matrix(0.8000 0 0 1 167.13 1193.48)" font-size="22.05" font-weight="bold" fill="#000" font-family='"Liberation Sans", Arial, sans-serif'>6</text>
<rect x="161.5" y="1189.0" width="3.4" height="1.7" fill="#000"/>
<text transform="matrix(0.8696 0 0 1 125.42 1212.94)" font-size="36.18" font-weight="bold" fill="#000" font-family='"Liberation Sans", Arial, sans-serif'>10</text>
<text transform="matrix(0.8000 0 0 1 167.04 1313.28)" font-size="22.05" font-weight="bold" fill="#000" font-family='"Liberation Sans", Arial, sans-serif'>8</text>
<rect x="161.3" y="1308.8" width="3.4" height="1.7" fill="#000"/>
<text transform="matrix(0.8696 0 0 1 125.25 1332.74)" font-size="36.18" font-weight="bold" fill="#000" font-family='"Liberation Sans", Arial, sans-serif'>10</text>
<text transform="matrix(0.8000 0 0 1 157.43 1431.38)" font-size="22.05" font-weight="bold" fill="#000" font-family='"Liberation Sans", Arial, sans-serif'>10</text>
<rect x="152.2" y="1426.9" width="3.4" height="1.7" fill="#000"/>
<text transform="matrix(0.8696 0 0 1 116.16 1450.84)" font-size="36.18" font-weight="bold" fill="#000" font-family='"Liberation Sans", Arial, sans-serif'>10</text>
<text transform="matrix(0.8000 0 0 1 157.16 1550.00)" font-size="22.37" font-weight="bold" fill="#000" font-family='"Liberation Sans", Arial, sans-serif'>12</text>
<rect x="152.0" y="1545.3" width="3.4" height="1.7" fill="#000"/>
<text transform="matrix(0.8696 0 0 1 115.91 1569.24)" font-size="36.18" font-weight="bold" fill="#000" font-family='"Liberation Sans", Arial, sans-serif'>10</text>
<text transform="matrix(0.8800 0 0 1 164.19 1678.75)" font-size="36.20" font-weight="bold" fill="#000" font-family='"Liberation Sans", Arial, sans-serif'>-30</text>
<text transform="matrix(0.8800 0 0 1 264.50 1678.84)" font-size="36.33" font-weight="bold" fill="#000" font-family='"Liberation Sans", Arial, sans-serif'>-20</text>
<text transform="matrix(0.8800 0 0 1 364.90 1678.84)" font-size="36.33" font-weight="bold" fill="#000" font-family='"Liberation Sans", Arial, sans-serif'>-10</text>
<text transform="matrix(0.8800 0 0 1 479.13 1678.84)" font-size="36.33" font-weight="bold" fill="#000" font-family='"Liberation Sans", Arial, sans-serif'>0</text>
<text transform="matrix(0.8800 0 0 1 570.10 1678.84)" font-size="36.33" font-weight="bold" fill="#000" font-family='"Liberation Sans", Arial, sans-serif'>10</text>
<text transform="matrix(0.8800 0 0 1 671.24 1678.84)" font-size="36.33" font-weight="bold" fill="#000" font-family='"Liberation Sans", Arial, sans-serif'>20</text>
<text transform="matrix(0.8800 0 0 1 771.30 1678.75)" font-size="36.20" font-weight="bold" fill="#000" font-family='"Liberation Sans", Arial, sans-serif'>30</text>
<text transform="matrix(0.8282 0 0 1 420.95 1755.50)" font-size="56.44" font-weight="bold" fill="#000" font-family='"Liberation Sans", Arial, sans-serif'>V</text>
<text transform="matrix(0.8836 0 0 1 453.39 1777.48)" font-size="31.52" font-weight="bold" fill="#000" font-family='"Liberation Sans", Arial, sans-serif'>G</text>
<text transform="matrix(0.9353 0 0 1 490.84 1754.87)" font-size="52.65" font-weight="bold" fill="#000" font-family='"Liberation Sans", Arial, sans-serif'>(V)</text>
<text transform="matrix(0 -0.8954 1 0 85.80 1411.87)" font-size="52.51" font-weight="bold" fill="#000" font-family='"Liberation Sans", Arial, sans-serif'>I</text>
<text transform="matrix(0 -1.0570 1 0 105.60 1397.51)" font-size="32.44" font-weight="bold" fill="#000" font-family='"Liberation Sans", Arial, sans-serif'>D</text>
<text transform="matrix(0 -1.1465 1 0 85.94 1356.89)" font-size="50.40" font-weight="bold" fill="#000" font-family='"Liberation Sans", Arial, sans-serif'>(A)</text>
<text transform="matrix(1.0312 0 0 1 548.81 1517.70)" font-size="30.07" font-weight="bold" fill="#000" font-family='"Liberation Sans", Arial, sans-serif'>NBIS condition</text>
<rect x="549.5" y="1519.6" width="221" height="2.2" fill="#111"/>
<text transform="matrix(0.8867 0 0 1 550.07 1551.90)" font-size="29.67" font-weight="normal" fill="#111" font-family='"Liberation Sans", Arial, sans-serif'>V</text>
<text transform="matrix(1.0319 0 0 1 567.34 1557.50)" font-size="20.49" font-weight="normal" fill="#111" font-family='"Liberation Sans", Arial, sans-serif'>G</text>
<text transform="matrix(0.9496 0 0 1 581.02 1551.81)" font-size="29.40" font-weight="normal" fill="#111" font-family='"Liberation Sans", Arial, sans-serif'>:-20V</text>
<text transform="matrix(0.9182 0 0 1 550.07 1585.40)" font-size="28.65" font-weight="normal" fill="#111" font-family='"Liberation Sans", Arial, sans-serif'>V</text>
<text transform="matrix(1.0342 0 0 1 566.69 1591.90)" font-size="20.07" font-weight="normal" fill="#111" font-family='"Liberation Sans", Arial, sans-serif'>D</text>
<text transform="matrix(0.9710 0 0 1 581.05 1585.32)" font-size="28.41" font-weight="normal" fill="#111" font-family='"Liberation Sans", Arial, sans-serif'>:10.1V</text>
<text transform="matrix(1.0684 0 0 1 549.43 1618.04)" font-size="25.99" font-weight="bold" fill="#f00" font-family='"Liberation Sans", Arial, sans-serif'>W-LED: 5700 lux</text>
<path d="M1126.0 981.6V1634.4M1226.2 981.6V1634.4M1326.6 981.6V1634.4M1426.9 981.6V1634.4M1527.1 981.6V1634.4M1026.0 1617.6H1627.0M1026.0 1556.8H1627.0M1026.0 1497.6H1627.0M1026.0 1438.4H1627.0M1026.0 1379.1H1627.0M1026.0 1320.3H1627.0M1026.0 1260.6H1627.0M1026.0 1200.5H1627.0M1026.0 1141.3H1627.0M1026.0 1082.1H1627.0M1026.0 1022.8H1627.0" stroke="#c9c9c9" stroke-width="1.5" fill="none"/>
<path d="M1026.4,1480.0 1030.4,1491.8 1032.4,1494.8 1040.3,1498.5 1049.3,1500.9 1082.2,1506.4 1115.0,1510.7 1185.1,1519.0 1257.3,1526.4 1286.4,1530.0 1307.5,1533.6 1320.6,1538.5 1325.6,1539.3 1326.6,1527.6 1327.6,1500.2 1330.6,1381.5 1331.6,1357.1 1335.6,1279.8 1338.6,1240.4 1340.6,1223.8 1343.7,1205.2 1346.7,1190.7 1349.7,1179.1 1353.7,1166.0 1358.7,1152.5 1363.7,1141.6 1369.7,1130.7 1376.8,1119.9 1384.8,1109.8 1393.8,1100.5 1403.8,1091.7 1413.9,1084.2 1423.9,1077.9 1435.9,1071.8 1448.9,1066.4 1466.0,1060.6 1484.0,1055.5 1509.1,1049.7 1534.1,1044.8 1569.1,1038.4 1582.2,1036.5 1608.2,1034.3 1627.2,1033.6" stroke="#000000" stroke-width="5.0" fill="none" stroke-linejoin="round" clip-path="url(#cd)"/>
<g clip-path="url(#cdm)"><rect x="1021.4" y="1474.5" width="10.0" height="11.0" fill="#fff" stroke="#000000" stroke-width="2.0"/><rect x="1061.2" y="1498.2" width="10.0" height="11.0" fill="#fff" stroke="#000000" stroke-width="2.0"/><rect x="1101.1" y="1504.1" width="10.0" height="11.0" fill="#fff" stroke="#000000" stroke-width="2.0"/><rect x="1141.0" y="1508.8" width="10.0" height="11.0" fill="#fff" stroke="#000000" stroke-width="2.0"/><rect x="1181.1" y="1513.6" width="10.0" height="11.0" fill="#fff" stroke="#000000" stroke-width="2.0"/><rect x="1221.2" y="1517.8" width="10.0" height="11.0" fill="#fff" stroke="#000000" stroke-width="2.0"/><rect x="1261.4" y="1521.9" width="10.0" height="11.0" fill="#fff" stroke="#000000" stroke-width="2.0"/><rect x="1301.5" y="1527.9" width="10.0" height="11.0" fill="#fff" stroke="#000000" stroke-width="2.0"/><rect x="1341.7" y="1185.2" width="10.0" height="11.0" fill="#fff" stroke="#000000" stroke-width="2.0"/><rect x="1381.8" y="1102.1" width="10.0" height="11.0" fill="#fff" stroke="#000000" stroke-width="2.0"/><rect x="1421.9" y="1070.8" width="10.0" height="11.0" fill="#fff" stroke="#000000" stroke-width="2.0"/><rect x="1462.0" y="1054.8" width="10.0" height="11.0" fill="#fff" stroke="#000000" stroke-width="2.0"/><rect x="1502.1" y="1044.7" width="10.0" height="11.0" fill="#fff" stroke="#000000" stroke-width="2.0"/><rect x="1542.1" y="1037.0" width="10.0" height="11.0" fill="#fff" stroke="#000000" stroke-width="2.0"/><rect x="1582.2" y="1030.4" width="10.0" height="11.0" fill="#fff" stroke="#000000" stroke-width="2.0"/><rect x="1622.2" y="1028.1" width="10.0" height="11.0" fill="#fff" stroke="#000000" stroke-width="2.0"/></g>
<path d="M1026.4,1482.3 1030.4,1493.7 1032.4,1496.6 1039.3,1499.7 1046.3,1501.7 1080.2,1507.2 1115.0,1512.0 1265.4,1531.4 1283.4,1534.6 1295.5,1537.8 1304.5,1541.2 1311.5,1548.0 1317.6,1548.2 1318.6,1530.3 1320.6,1453.9 1322.6,1398.6 1325.6,1360.0 1328.6,1339.4 1332.6,1279.6 1336.6,1242.0 1342.6,1204.0 1348.7,1177.4 1352.7,1164.7 1357.7,1151.7 1362.7,1141.2 1368.7,1130.4 1375.7,1119.5 1383.8,1109.3 1392.8,1100.1 1402.8,1091.4 1412.9,1084.1 1423.9,1077.3 1435.9,1071.3 1449.9,1065.4 1470.0,1058.8 1493.0,1052.7 1521.1,1046.7 1565.1,1038.5 1587.2,1035.3 1610.2,1033.6 1627.2,1033.0" stroke="#ff0000" stroke-width="5.0" fill="none" stroke-linejoin="round" clip-path="url(#cd)"/>
<g clip-path="url(#cdm)"><ellipse cx="1026.4" cy="1482.3" rx="4.5" ry="5.9" fill="#fff" stroke="#ff0000" stroke-width="2.0"/><ellipse cx="1066.2" cy="1504.9" rx="4.5" ry="5.9" fill="#fff" stroke="#ff0000" stroke-width="2.0"/><ellipse cx="1106.1" cy="1510.8" rx="4.5" ry="5.9" fill="#fff" stroke="#ff0000" stroke-width="2.0"/><ellipse cx="1146.0" cy="1516.1" rx="4.5" ry="5.9" fill="#fff" stroke="#ff0000" stroke-width="2.0"/><ellipse cx="1186.1" cy="1521.5" rx="4.5" ry="5.9" fill="#fff" stroke="#ff0000" stroke-width="2.0"/><ellipse cx="1226.2" cy="1526.2" rx="4.5" ry="5.9" fill="#fff" stroke="#ff0000" stroke-width="2.0"/><ellipse cx="1266.4" cy="1531.6" rx="4.5" ry="5.9" fill="#fff" stroke="#ff0000" stroke-width="2.0"/><ellipse cx="1306.5" cy="1542.8" rx="4.5" ry="5.9" fill="#fff" stroke="#ff0000" stroke-width="2.0"/><ellipse cx="1346.7" cy="1185.1" rx="4.5" ry="5.9" fill="#fff" stroke="#ff0000" stroke-width="2.0"/><ellipse cx="1386.8" cy="1106.0" rx="4.5" ry="5.9" fill="#fff" stroke="#ff0000" stroke-width="2.0"/><ellipse cx="1426.9" cy="1075.7" rx="4.5" ry="5.9" fill="#fff" stroke="#ff0000" stroke-width="2.0"/><ellipse cx="1467.0" cy="1059.7" rx="4.5" ry="5.9" fill="#fff" stroke="#ff0000" stroke-width="2.0"/><ellipse cx="1507.1" cy="1049.6" rx="4.5" ry="5.9" fill="#fff" stroke="#ff0000" stroke-width="2.0"/><ellipse cx="1547.1" cy="1041.9" rx="4.5" ry="5.9" fill="#fff" stroke="#ff0000" stroke-width="2.0"/><ellipse cx="1587.2" cy="1035.3" rx="4.5" ry="5.9" fill="#fff" stroke="#ff0000" stroke-width="2.0"/><ellipse cx="1627.2" cy="1033.0" rx="4.5" ry="5.9" fill="#fff" stroke="#ff0000" stroke-width="2.0"/></g>
<path d="M1026.4,1474.0 1030.4,1492.3 1031.4,1494.3 1036.4,1499.5 1042.3,1504.1 1049.3,1507.8 1056.3,1510.3 1070.2,1514.3 1084.2,1517.7 1100.1,1520.5 1148.0,1526.5 1186.1,1532.7 1227.2,1537.6 1258.3,1540.6 1272.4,1542.6 1284.4,1544.9 1296.5,1548.0 1306.5,1551.1 1312.5,1554.2 1313.5,1541.7 1314.6,1513.4 1317.6,1399.9 1318.6,1376.7 1323.6,1293.8 1326.6,1260.8 1329.6,1237.1 1333.6,1211.3 1340.6,1178.0 1344.7,1163.3 1349.7,1149.0 1354.7,1137.2 1359.7,1127.7 1364.7,1120.2 1370.7,1112.4 1376.8,1105.9 1382.8,1100.5 1406.8,1083.0 1417.9,1075.8 1428.9,1070.0 1443.9,1064.0 1466.0,1057.0 1488.0,1051.4 1520.1,1044.5 1568.1,1035.5 1587.2,1033.0 1610.2,1031.6 1627.2,1031.2" stroke="#0000ff" stroke-width="5.0" fill="none" stroke-linejoin="round" clip-path="url(#cd)"/>
<g clip-path="url(#cdm)"><polygon points="1026.4,1464.0 1033.3,1479.9 1019.5,1479.9" fill="#fff" stroke="#0000ff" stroke-width="2.0" stroke-linejoin="miter"/><polygon points="1066.2,1503.2 1073.1,1519.1 1059.3,1519.1" fill="#fff" stroke="#0000ff" stroke-width="2.0" stroke-linejoin="miter"/><polygon points="1106.1,1511.5 1113.0,1527.4 1099.2,1527.4" fill="#fff" stroke="#0000ff" stroke-width="2.0" stroke-linejoin="miter"/><polygon points="1146.0,1516.2 1152.9,1532.1 1139.1,1532.1" fill="#fff" stroke="#0000ff" stroke-width="2.0" stroke-linejoin="miter"/><polygon points="1186.1,1522.7 1193.0,1538.6 1179.2,1538.6" fill="#fff" stroke="#0000ff" stroke-width="2.0" stroke-linejoin="miter"/><polygon points="1226.2,1527.5 1233.1,1543.4 1219.3,1543.4" fill="#fff" stroke="#0000ff" stroke-width="2.0" stroke-linejoin="miter"/><polygon points="1266.4,1531.7 1273.3,1547.6 1259.5,1547.6" fill="#fff" stroke="#0000ff" stroke-width="2.0" stroke-linejoin="miter"/><polygon points="1306.5,1541.1 1313.4,1557.0 1299.6,1557.0" fill="#fff" stroke="#0000ff" stroke-width="2.0" stroke-linejoin="miter"/><polygon points="1346.7,1147.2 1353.6,1163.1 1339.8,1163.1" fill="#fff" stroke="#0000ff" stroke-width="2.0" stroke-linejoin="miter"/><polygon points="1386.8,1087.7 1393.7,1103.6 1379.9,1103.6" fill="#fff" stroke="#0000ff" stroke-width="2.0" stroke-linejoin="miter"/><polygon points="1426.9,1060.9 1433.8,1076.8 1420.0,1076.8" fill="#fff" stroke="#0000ff" stroke-width="2.0" stroke-linejoin="miter"/><polygon points="1467.0,1046.7 1473.9,1062.6 1460.1,1062.6" fill="#fff" stroke="#0000ff" stroke-width="2.0" stroke-linejoin="miter"/><polygon points="1507.1,1037.2 1514.0,1053.1 1500.2,1053.1" fill="#fff" stroke="#0000ff" stroke-width="2.0" stroke-linejoin="miter"/><polygon points="1547.1,1029.5 1554.0,1045.4 1540.2,1045.4" fill="#fff" stroke="#0000ff" stroke-width="2.0" stroke-linejoin="miter"/><polygon points="1587.2,1023.0 1594.1,1038.9 1580.3,1038.9" fill="#fff" stroke="#0000ff" stroke-width="2.0" stroke-linejoin="miter"/><polygon points="1627.2,1021.2 1634.1,1037.1 1620.3,1037.1" fill="#fff" stroke="#0000ff" stroke-width="2.0" stroke-linejoin="miter"/></g>
<path d="M1026.4,1447.3 1028.4,1464.3 1031.4,1473.0 1034.4,1478.0 1038.4,1481.5 1045.3,1485.8 1052.3,1488.9 1059.3,1491.0 1078.2,1494.1 1112.1,1497.1 1183.1,1502.3 1239.3,1505.8 1277.4,1508.9 1281.4,1508.8 1284.4,1505.4 1285.4,1502.4 1286.4,1494.3 1292.5,1375.0 1298.5,1294.5 1301.5,1269.5 1309.5,1221.0 1315.6,1194.4 1319.6,1180.9 1324.6,1166.4 1329.6,1154.2 1335.6,1141.6 1341.6,1130.5 1346.7,1122.7 1354.7,1112.5 1363.7,1102.9 1374.7,1093.1 1384.8,1085.8 1394.8,1080.4 1405.8,1075.5 1448.9,1059.4 1465.0,1054.3 1483.0,1049.6 1536.1,1038.4 1574.1,1032.8 1627.2,1027.0" stroke="#008080" stroke-width="5.0" fill="none" stroke-linejoin="round" clip-path="url(#cd)"/>
<g clip-path="url(#cdm)"><polygon points="1019.5,1441.6 1033.3,1441.6 1026.4,1456.5" fill="#fff" stroke="#008080" stroke-width="2.0" stroke-linejoin="miter"/><polygon points="1059.3,1486.7 1073.1,1486.7 1066.2,1501.6" fill="#fff" stroke="#008080" stroke-width="2.0" stroke-linejoin="miter"/><polygon points="1099.2,1490.9 1113.0,1490.9 1106.1,1505.8" fill="#fff" stroke="#008080" stroke-width="2.0" stroke-linejoin="miter"/><polygon points="1139.1,1493.8 1152.9,1493.8 1146.0,1508.7" fill="#fff" stroke="#008080" stroke-width="2.0" stroke-linejoin="miter"/><polygon points="1179.2,1496.8 1193.0,1496.8 1186.1,1511.7" fill="#fff" stroke="#008080" stroke-width="2.0" stroke-linejoin="miter"/><polygon points="1219.3,1499.2 1233.1,1499.2 1226.2,1514.1" fill="#fff" stroke="#008080" stroke-width="2.0" stroke-linejoin="miter"/><polygon points="1259.5,1502.1 1273.3,1502.1 1266.4,1517.0" fill="#fff" stroke="#008080" stroke-width="2.0" stroke-linejoin="miter"/><polygon points="1299.6,1235.3 1313.4,1235.3 1306.5,1250.2" fill="#fff" stroke="#008080" stroke-width="2.0" stroke-linejoin="miter"/><polygon points="1339.8,1117.0 1353.6,1117.0 1346.7,1131.9" fill="#fff" stroke="#008080" stroke-width="2.0" stroke-linejoin="miter"/><polygon points="1379.9,1078.9 1393.7,1078.9 1386.8,1093.8" fill="#fff" stroke="#008080" stroke-width="2.0" stroke-linejoin="miter"/><polygon points="1420.0,1061.7 1433.8,1061.7 1426.9,1076.6" fill="#fff" stroke="#008080" stroke-width="2.0" stroke-linejoin="miter"/><polygon points="1460.1,1048.0 1473.9,1048.0 1467.0,1062.9" fill="#fff" stroke="#008080" stroke-width="2.0" stroke-linejoin="miter"/><polygon points="1500.2,1038.5 1514.0,1038.5 1507.1,1053.4" fill="#fff" stroke="#008080" stroke-width="2.0" stroke-linejoin="miter"/><polygon points="1540.2,1030.8 1554.0,1030.8 1547.1,1045.7" fill="#fff" stroke="#008080" stroke-width="2.0" stroke-linejoin="miter"/><polygon points="1580.3,1025.5 1594.1,1025.5 1587.2,1040.4" fill="#fff" stroke="#008080" stroke-width="2.0" stroke-linejoin="miter"/><polygon points="1620.3,1021.3 1634.1,1021.3 1627.2,1036.2" fill="#fff" stroke="#008080" stroke-width="2.0" stroke-linejoin="miter"/></g>
<path d="M1026.4,1405.8 1028.4,1427.0 1030.4,1434.9 1032.4,1439.1 1036.4,1443.9 1040.3,1447.0 1047.3,1450.4 1055.3,1453.0 1080.2,1458.2 1108.1,1461.7 1213.2,1470.2 1247.3,1472.3 1263.3,1472.8 1266.4,1410.5 1271.4,1339.2 1278.4,1271.8 1283.4,1238.7 1287.4,1219.2 1291.5,1202.9 1299.5,1174.8 1303.5,1162.5 1307.5,1153.3 1311.5,1146.0 1324.6,1125.4 1330.6,1117.0 1338.6,1108.7 1352.7,1097.0 1367.7,1085.2 1380.8,1076.3 1392.8,1069.5 1406.8,1062.7 1419.9,1057.4 1432.9,1053.0 1450.9,1047.9 1470.0,1043.6 1530.1,1034.2 1580.2,1027.7 1627.2,1024.1" stroke="#ff00ff" stroke-width="5.0" fill="none" stroke-linejoin="round" clip-path="url(#cd)"/>
<g clip-path="url(#cdm)"><polygon points="1020.1,1405.8 1030.9,1396.5 1030.9,1415.1" fill="#fff" stroke="#ff00ff" stroke-width="2.0" stroke-linejoin="miter"/><polygon points="1059.9,1455.6 1070.7,1446.3 1070.7,1464.9" fill="#fff" stroke="#ff00ff" stroke-width="2.0" stroke-linejoin="miter"/><polygon points="1099.8,1461.5 1110.6,1452.2 1110.6,1470.8" fill="#fff" stroke="#ff00ff" stroke-width="2.0" stroke-linejoin="miter"/><polygon points="1139.7,1464.5 1150.5,1455.2 1150.5,1473.8" fill="#fff" stroke="#ff00ff" stroke-width="2.0" stroke-linejoin="miter"/><polygon points="1179.8,1468.1 1190.6,1458.8 1190.6,1477.4" fill="#fff" stroke="#ff00ff" stroke-width="2.0" stroke-linejoin="miter"/><polygon points="1219.9,1471.0 1230.7,1461.7 1230.7,1480.3" fill="#fff" stroke="#ff00ff" stroke-width="2.0" stroke-linejoin="miter"/><polygon points="1260.1,1410.5 1270.9,1401.2 1270.9,1419.8" fill="#fff" stroke="#ff00ff" stroke-width="2.0" stroke-linejoin="miter"/><polygon points="1300.2,1155.4 1311.0,1146.1 1311.0,1164.7" fill="#fff" stroke="#ff00ff" stroke-width="2.0" stroke-linejoin="miter"/><polygon points="1340.4,1101.9 1351.2,1092.6 1351.2,1111.2" fill="#fff" stroke="#ff00ff" stroke-width="2.0" stroke-linejoin="miter"/><polygon points="1380.5,1072.7 1391.3,1063.4 1391.3,1082.0" fill="#fff" stroke="#ff00ff" stroke-width="2.0" stroke-linejoin="miter"/><polygon points="1420.6,1054.9 1431.4,1045.6 1431.4,1064.2" fill="#fff" stroke="#ff00ff" stroke-width="2.0" stroke-linejoin="miter"/><polygon points="1460.7,1044.2 1471.5,1034.9 1471.5,1053.5" fill="#fff" stroke="#ff00ff" stroke-width="2.0" stroke-linejoin="miter"/><polygon points="1500.8,1037.7 1511.6,1028.4 1511.6,1047.0" fill="#fff" stroke="#ff00ff" stroke-width="2.0" stroke-linejoin="miter"/><polygon points="1540.8,1031.8 1551.6,1022.5 1551.6,1041.1" fill="#fff" stroke="#ff00ff" stroke-width="2.0" stroke-linejoin="miter"/><polygon points="1580.9,1027.0 1591.7,1017.7 1591.7,1036.3" fill="#fff" stroke="#ff00ff" stroke-width="2.0" stroke-linejoin="miter"/><polygon points="1620.9,1024.1 1631.7,1014.8 1631.7,1033.4" fill="#fff" stroke="#ff00ff" stroke-width="2.0" stroke-linejoin="miter"/></g>
<path d="M1026.0 1630.79h6.3M1026.0 1626.81h6.3M1026.0 1623.36h6.3M1026.0 1620.32h6.3M1026.0 1617.60h10.8M1026.0 1599.30h6.3M1026.0 1588.59h6.3M1026.0 1580.99h6.3M1026.0 1575.10h6.3M1026.0 1570.29h6.3M1026.0 1566.22h6.3M1026.0 1562.69h6.3M1026.0 1559.58h6.3M1026.0 1556.80h10.8M1026.0 1538.98h6.3M1026.0 1528.55h6.3M1026.0 1521.16h6.3M1026.0 1515.42h6.3M1026.0 1510.73h6.3M1026.0 1506.77h6.3M1026.0 1503.34h6.3M1026.0 1500.31h6.3M1026.0 1497.60h10.8M1026.0 1479.78h6.3M1026.0 1469.35h6.3M1026.0 1461.96h6.3M1026.0 1456.22h6.3M1026.0 1451.53h6.3M1026.0 1447.57h6.3M1026.0 1444.14h6.3M1026.0 1441.11h6.3M1026.0 1438.40h10.8M1026.0 1420.55h6.3M1026.0 1410.11h6.3M1026.0 1402.70h6.3M1026.0 1396.95h6.3M1026.0 1392.26h6.3M1026.0 1388.29h6.3M1026.0 1384.85h6.3M1026.0 1381.81h6.3M1026.0 1379.10h10.8M1026.0 1361.40h6.3M1026.0 1351.05h6.3M1026.0 1343.70h6.3M1026.0 1338.00h6.3M1026.0 1333.34h6.3M1026.0 1329.41h6.3M1026.0 1326.00h6.3M1026.0 1322.99h6.3M1026.0 1320.30h10.8M1026.0 1302.33h6.3M1026.0 1291.82h6.3M1026.0 1284.36h6.3M1026.0 1278.57h6.3M1026.0 1273.84h6.3M1026.0 1269.85h6.3M1026.0 1266.39h6.3M1026.0 1263.33h6.3M1026.0 1260.60h10.8M1026.0 1242.51h6.3M1026.0 1231.93h6.3M1026.0 1224.42h6.3M1026.0 1218.59h6.3M1026.0 1213.83h6.3M1026.0 1209.81h6.3M1026.0 1206.32h6.3M1026.0 1203.25h6.3M1026.0 1200.50h10.8M1026.0 1182.68h6.3M1026.0 1172.25h6.3M1026.0 1164.86h6.3M1026.0 1159.12h6.3M1026.0 1154.43h6.3M1026.0 1150.47h6.3M1026.0 1147.04h6.3M1026.0 1144.01h6.3M1026.0 1141.30h10.8M1026.0 1123.48h6.3M1026.0 1113.05h6.3M1026.0 1105.66h6.3M1026.0 1099.92h6.3M1026.0 1095.23h6.3M1026.0 1091.27h6.3M1026.0 1087.84h6.3M1026.0 1084.81h6.3M1026.0 1082.10h10.8M1026.0 1064.25h6.3M1026.0 1053.81h6.3M1026.0 1046.40h6.3M1026.0 1040.65h6.3M1026.0 1035.96h6.3M1026.0 1031.99h6.3M1026.0 1028.55h6.3M1026.0 1025.51h6.3M1026.0 1022.80h10.8M1026.0 1004.97h6.3M1026.0 994.54h6.3M1026.0 987.14h6.3M1026.0 981.40h6.3M1026.40 1634.4v12.0M1076.20 1634.4v7.0M1126.00 1634.4v12.0M1176.10 1634.4v7.0M1226.20 1634.4v12.0M1276.40 1634.4v7.0M1326.60 1634.4v12.0M1376.75 1634.4v7.0M1426.90 1634.4v12.0M1477.00 1634.4v7.0M1527.10 1634.4v12.0M1577.15 1634.4v7.0M1627.20 1634.4v12.0" stroke="#000" stroke-width="3.6" fill="none"/>
<rect x="1026.0" y="981.6" width="601.0" height="652.8" fill="none" stroke="#000" stroke-width="4.0" stroke-linejoin="round"/>
<path d="M1052.1 999.7H1106.6" stroke="#000000" stroke-width="5.0" stroke-linecap="butt"/>
<rect x="1072.7" y="994.2" width="10.0" height="11.0" fill="#fff" stroke="#000000" stroke-width="2.0"/>
<text transform="matrix(0.8426 0 0 1 1109.18 1007.75)" font-size="25.09" font-weight="bold" fill="#000" font-family='"Liberation Sans", Arial, sans-serif'>1s</text>
<path d="M1052.1 1031.2H1106.6" stroke="#ff0000" stroke-width="5.0" stroke-linecap="butt"/>
<ellipse cx="1077.7" cy="1031.2" rx="4.5" ry="5.9" fill="#fff" stroke="#ff0000" stroke-width="2.0"/>
<text transform="matrix(0.8856 0 0 1 1109.16 1038.26)" font-size="24.17" font-weight="bold" fill="#000" font-family='"Liberation Sans", Arial, sans-serif'>10s</text>
<path d="M1052.1 1061.3H1106.6" stroke="#0000ff" stroke-width="5.0" stroke-linecap="butt"/>
<polygon points="1077.7,1051.3 1084.6,1067.2 1070.8,1067.2" fill="#fff" stroke="#0000ff" stroke-width="2.0" stroke-linejoin="miter"/>
<text transform="matrix(0.8483 0 0 1 1109.16 1070.25)" font-size="25.30" font-weight="bold" fill="#000" font-family='"Liberation Sans", Arial, sans-serif'>100s</text>
<path d="M1052.1 1093.8H1106.6" stroke="#008080" stroke-width="5.0" stroke-linecap="butt"/>
<polygon points="1070.8,1088.1 1084.6,1088.1 1077.7,1103.0" fill="#fff" stroke="#008080" stroke-width="2.0" stroke-linejoin="miter"/>
<text transform="matrix(0.8735 0 0 1 1109.19 1101.76)" font-size="24.03" font-weight="bold" fill="#000" font-family='"Liberation Sans", Arial, sans-serif'>1000s</text>
<path d="M1052.1 1125.8H1106.6" stroke="#ff00ff" stroke-width="5.0" stroke-linecap="butt"/>
<polygon points="1071.4,1125.8 1082.2,1116.5 1082.2,1135.1" fill="#fff" stroke="#ff00ff" stroke-width="2.0" stroke-linejoin="miter"/>
<text transform="matrix(0.8390 0 0 1 1110.03 1132.29)" font-size="24.65" font-weight="bold" fill="#000" font-family='"Liberation Sans", Arial, sans-serif'>3600s</text>
<text transform="matrix(0.8000 0 0 1 1004.12 1075.30)" font-size="22.69" font-weight="bold" fill="#000" font-family='"Liberation Sans", Arial, sans-serif'>4</text>
<rect x="998.1" y="1070.6" width="3.4" height="1.7" fill="#000"/>
<text transform="matrix(0.8696 0 0 1 962.02 1094.54)" font-size="36.18" font-weight="bold" fill="#000" font-family='"Liberation Sans", Arial, sans-serif'>10</text>
<text transform="matrix(0.8000 0 0 1 1004.93 1193.48)" font-size="22.05" font-weight="bold" fill="#000" font-family='"Liberation Sans", Arial, sans-serif'>6</text>
<rect x="999.3" y="1189.0" width="3.4" height="1.7" fill="#000"/>
<text transform="matrix(0.8696 0 0 1 963.22 1212.94)" font-size="36.18" font-weight="bold" fill="#000" font-family='"Liberation Sans", Arial, sans-serif'>10</text>
<text transform="matrix(0.8000 0 0 1 1004.84 1313.28)" font-size="22.05" font-weight="bold" fill="#000" font-family='"Liberation Sans", Arial, sans-serif'>8</text>
<rect x="999.1" y="1308.8" width="3.4" height="1.7" fill="#000"/>
<text transform="matrix(0.8696 0 0 1 963.05 1332.74)" font-size="36.18" font-weight="bold" fill="#000" font-family='"Liberation Sans", Arial, sans-serif'>10</text>
<text transform="matrix(0.8000 0 0 1 995.23 1431.38)" font-size="22.05" font-weight="bold" fill="#000" font-family='"Liberation Sans", Arial, sans-serif'>10</text>
<rect x="990.0" y="1426.9" width="3.4" height="1.7" fill="#000"/>
<text transform="matrix(0.8696 0 0 1 953.96 1450.84)" font-size="36.18" font-weight="bold" fill="#000" font-family='"Liberation Sans", Arial, sans-serif'>10</text>
<text transform="matrix(0.8000 0 0 1 994.96 1550.00)" font-size="22.37" font-weight="bold" fill="#000" font-family='"Liberation Sans", Arial, sans-serif'>12</text>
<rect x="989.8" y="1545.3" width="3.4" height="1.7" fill="#000"/>
<text transform="matrix(0.8696 0 0 1 953.71 1569.24)" font-size="36.18" font-weight="bold" fill="#000" font-family='"Liberation Sans", Arial, sans-serif'>10</text>
<text transform="matrix(0.8800 0 0 1 1002.59 1678.75)" font-size="36.20" font-weight="bold" fill="#000" font-family='"Liberation Sans", Arial, sans-serif'>-30</text>
<text transform="matrix(0.8800 0 0 1 1102.10 1678.84)" font-size="36.33" font-weight="bold" fill="#000" font-family='"Liberation Sans", Arial, sans-serif'>-20</text>
<text transform="matrix(0.8800 0 0 1 1202.30 1678.84)" font-size="36.33" font-weight="bold" fill="#000" font-family='"Liberation Sans", Arial, sans-serif'>-10</text>
<text transform="matrix(0.8800 0 0 1 1316.93 1678.84)" font-size="36.33" font-weight="bold" fill="#000" font-family='"Liberation Sans", Arial, sans-serif'>0</text>
<text transform="matrix(0.8800 0 0 1 1408.00 1678.84)" font-size="36.33" font-weight="bold" fill="#000" font-family='"Liberation Sans", Arial, sans-serif'>10</text>
<text transform="matrix(0.8800 0 0 1 1508.64 1678.84)" font-size="36.33" font-weight="bold" fill="#000" font-family='"Liberation Sans", Arial, sans-serif'>20</text>
<text transform="matrix(0.8800 0 0 1 1609.00 1678.75)" font-size="36.20" font-weight="bold" fill="#000" font-family='"Liberation Sans", Arial, sans-serif'>30</text>
<text transform="matrix(0.8282 0 0 1 1258.75 1755.50)" font-size="56.44" font-weight="bold" fill="#000" font-family='"Liberation Sans", Arial, sans-serif'>V</text>
<text transform="matrix(0.8836 0 0 1 1291.19 1777.48)" font-size="31.52" font-weight="bold" fill="#000" font-family='"Liberation Sans", Arial, sans-serif'>G</text>
<text transform="matrix(0.9353 0 0 1 1328.64 1754.87)" font-size="52.65" font-weight="bold" fill="#000" font-family='"Liberation Sans", Arial, sans-serif'>(V)</text>
<text transform="matrix(0 -0.8954 1 0 923.60 1411.87)" font-size="52.51" font-weight="bold" fill="#000" font-family='"Liberation Sans", Arial, sans-serif'>I</text>
<text transform="matrix(0 -1.0570 1 0 943.40 1397.51)" font-size="32.44" font-weight="bold" fill="#000" font-family='"Liberation Sans", Arial, sans-serif'>D</text>
<text transform="matrix(0 -1.1465 1 0 923.74 1356.89)" font-size="50.40" font-weight="bold" fill="#000" font-family='"Liberation Sans", Arial, sans-serif'>(A)</text>
<text transform="matrix(1.0312 0 0 1 1386.61 1517.70)" font-size="30.07" font-weight="bold" fill="#000" font-family='"Liberation Sans", Arial, sans-serif'>NBIS condition</text>
<rect x="1387.3" y="1519.6" width="221" height="2.2" fill="#111"/>
<text transform="matrix(0.8867 0 0 1 1387.87 1551.90)" font-size="29.67" font-weight="normal" fill="#111" font-family='"Liberation Sans", Arial, sans-serif'>V</text>
<text transform="matrix(1.0319 0 0 1 1405.14 1557.50)" font-size="20.49" font-weight="normal" fill="#111" font-family='"Liberation Sans", Arial, sans-serif'>G</text>
<text transform="matrix(0.9496 0 0 1 1418.82 1551.81)" font-size="29.40" font-weight="normal" fill="#111" font-family='"Liberation Sans", Arial, sans-serif'>:-20V</text>
<text transform="matrix(0.9182 0 0 1 1387.87 1585.40)" font-size="28.65" font-weight="normal" fill="#111" font-family='"Liberation Sans", Arial, sans-serif'>V</text>
<text transform="matrix(1.0342 0 0 1 1404.49 1591.90)" font-size="20.07" font-weight="normal" fill="#111" font-family='"Liberation Sans", Arial, sans-serif'>D</text>
<text transform="matrix(0.9710 0 0 1 1418.85 1585.32)" font-size="28.41" font-weight="normal" fill="#111" font-family='"Liberation Sans", Arial, sans-serif'>:10.1V</text>
<text transform="matrix(1.0684 0 0 1 1387.23 1618.04)" font-size="25.99" font-weight="bold" fill="#f00" font-family='"Liberation Sans", Arial, sans-serif'>W-LED: 5700 lux</text>
<text transform="matrix(1.1769 0 0 1 513.76 1331.22)" font-size="32.27" font-weight="normal" fill="#f00" font-family='"Noto Sans CJK KR", "Noto Sans CJK JP", sans-serif'>△</text>
<text transform="matrix(0.6809 0 0 1 557.40 1337.70)" font-size="59.20" font-weight="bold" fill="#f00" font-family='"Liberation Sans", Arial, sans-serif'>V</text>
<text transform="matrix(0.8834 0 0 1 586.10 1345.84)" font-size="35.78" font-weight="bold" fill="#f00" font-family='"Liberation Sans", Arial, sans-serif'>th</text>
<text transform="matrix(1.0376 0 0 1 622.97 1330.90)" font-size="52.08" font-weight="bold" fill="#f00" font-family='"Liberation Sans", Arial, sans-serif'>:</text>
<text transform="matrix(0.7670 0 0 1 652.84 1337.62)" font-size="58.23" font-weight="bold" fill="#f00" font-family='"Liberation Sans", Arial, sans-serif'>9.6V</text>
<text transform="matrix(1.1125 0 0 1 1342.29 1331.73)" font-size="33.37" font-weight="normal" fill="#f00" font-family='"Noto Sans CJK KR", "Noto Sans CJK JP", sans-serif'>△</text>
<text transform="matrix(0.7088 0 0 1 1385.80 1337.20)" font-size="56.44" font-weight="bold" fill="#f00" font-family='"Liberation Sans", Arial, sans-serif'>V</text>
<text transform="matrix(0.9810 0 0 1 1414.80 1345.57)" font-size="32.93" font-weight="bold" fill="#f00" font-family='"Liberation Sans", Arial, sans-serif'>th</text>
<text transform="matrix(1.0032 0 0 1 1450.77 1331.40)" font-size="53.86" font-weight="bold" fill="#f00" font-family='"Liberation Sans", Arial, sans-serif'>:</text>
<text transform="matrix(0.7980 0 0 1 1481.44 1337.14)" font-size="55.55" font-weight="bold" fill="#f00" font-family='"Liberation Sans", Arial, sans-serif'>4.6V</text>
<polygon points="383.0,1315.5 406.0,1289.0 406.0,1303.0 467.6,1303.0 467.6,1289.0 490.6,1315.5 467.6,1342.0 467.6,1328.0 406.0,1328.0 406.0,1342.0" fill="url(#ag)" stroke="#fcd77c" stroke-width="2.4" stroke-linejoin="miter"/>
<polygon points="1267.4,1317.9 1290.9,1289.6 1290.9,1304.5 1309.2,1304.5 1309.2,1289.6 1332.4,1317.9 1309.2,1346.2 1309.2,1331.3 1290.9,1331.3 1290.9,1346.2" fill="url(#ag)" stroke="#fcd77c" stroke-width="2.4" stroke-linejoin="miter"/>
<text transform="matrix(1.0355 0 0 1 16.27 922.95)" font-size="60.48" font-weight="bold" fill="#000" font-family='"Liberation Sans", Arial, sans-serif'>(c)</text>
<text transform="matrix(1.0113 0 0 1 590.35 964.11)" font-size="49.12" font-weight="bold" fill="#222" font-family='"Liberation Sans", Arial, sans-serif'>Pristine</text>
<text transform="matrix(1.0306 0 0 1 860.18 922.95)" font-size="60.48" font-weight="bold" fill="#000" font-family='"Liberation Sans", Arial, sans-serif'>(d)</text>
<text transform="matrix(0.9769 0 0 1 1512.63 963.60)" font-size="50.18" font-weight="bold" fill="#222" font-family='"Liberation Sans", Arial, sans-serif'>SRD</text>
<text transform="matrix(1.0369 0 0 1 2.86 49.85)" font-size="60.48" font-weight="bold" fill="#000" font-family='"Liberation Sans", Arial, sans-serif'>(a)</text>
<text transform="matrix(1.0123 0 0 1 597.56 69.71)" font-size="48.84" font-weight="bold" fill="#222" font-family='"Liberation Sans", Arial, sans-serif'>Pristine</text>
<text transform="matrix(1.0285 0 0 1 847.46 49.74)" font-size="61.02" font-weight="bold" fill="#000" font-family='"Liberation Sans", Arial, sans-serif'>(b)</text>
<text transform="matrix(0.9641 0 0 1 1508.73 73.99)" font-size="50.74" font-weight="bold" fill="#222" font-family='"Liberation Sans", Arial, sans-serif'>SRD</text>
</svg></body></html>
